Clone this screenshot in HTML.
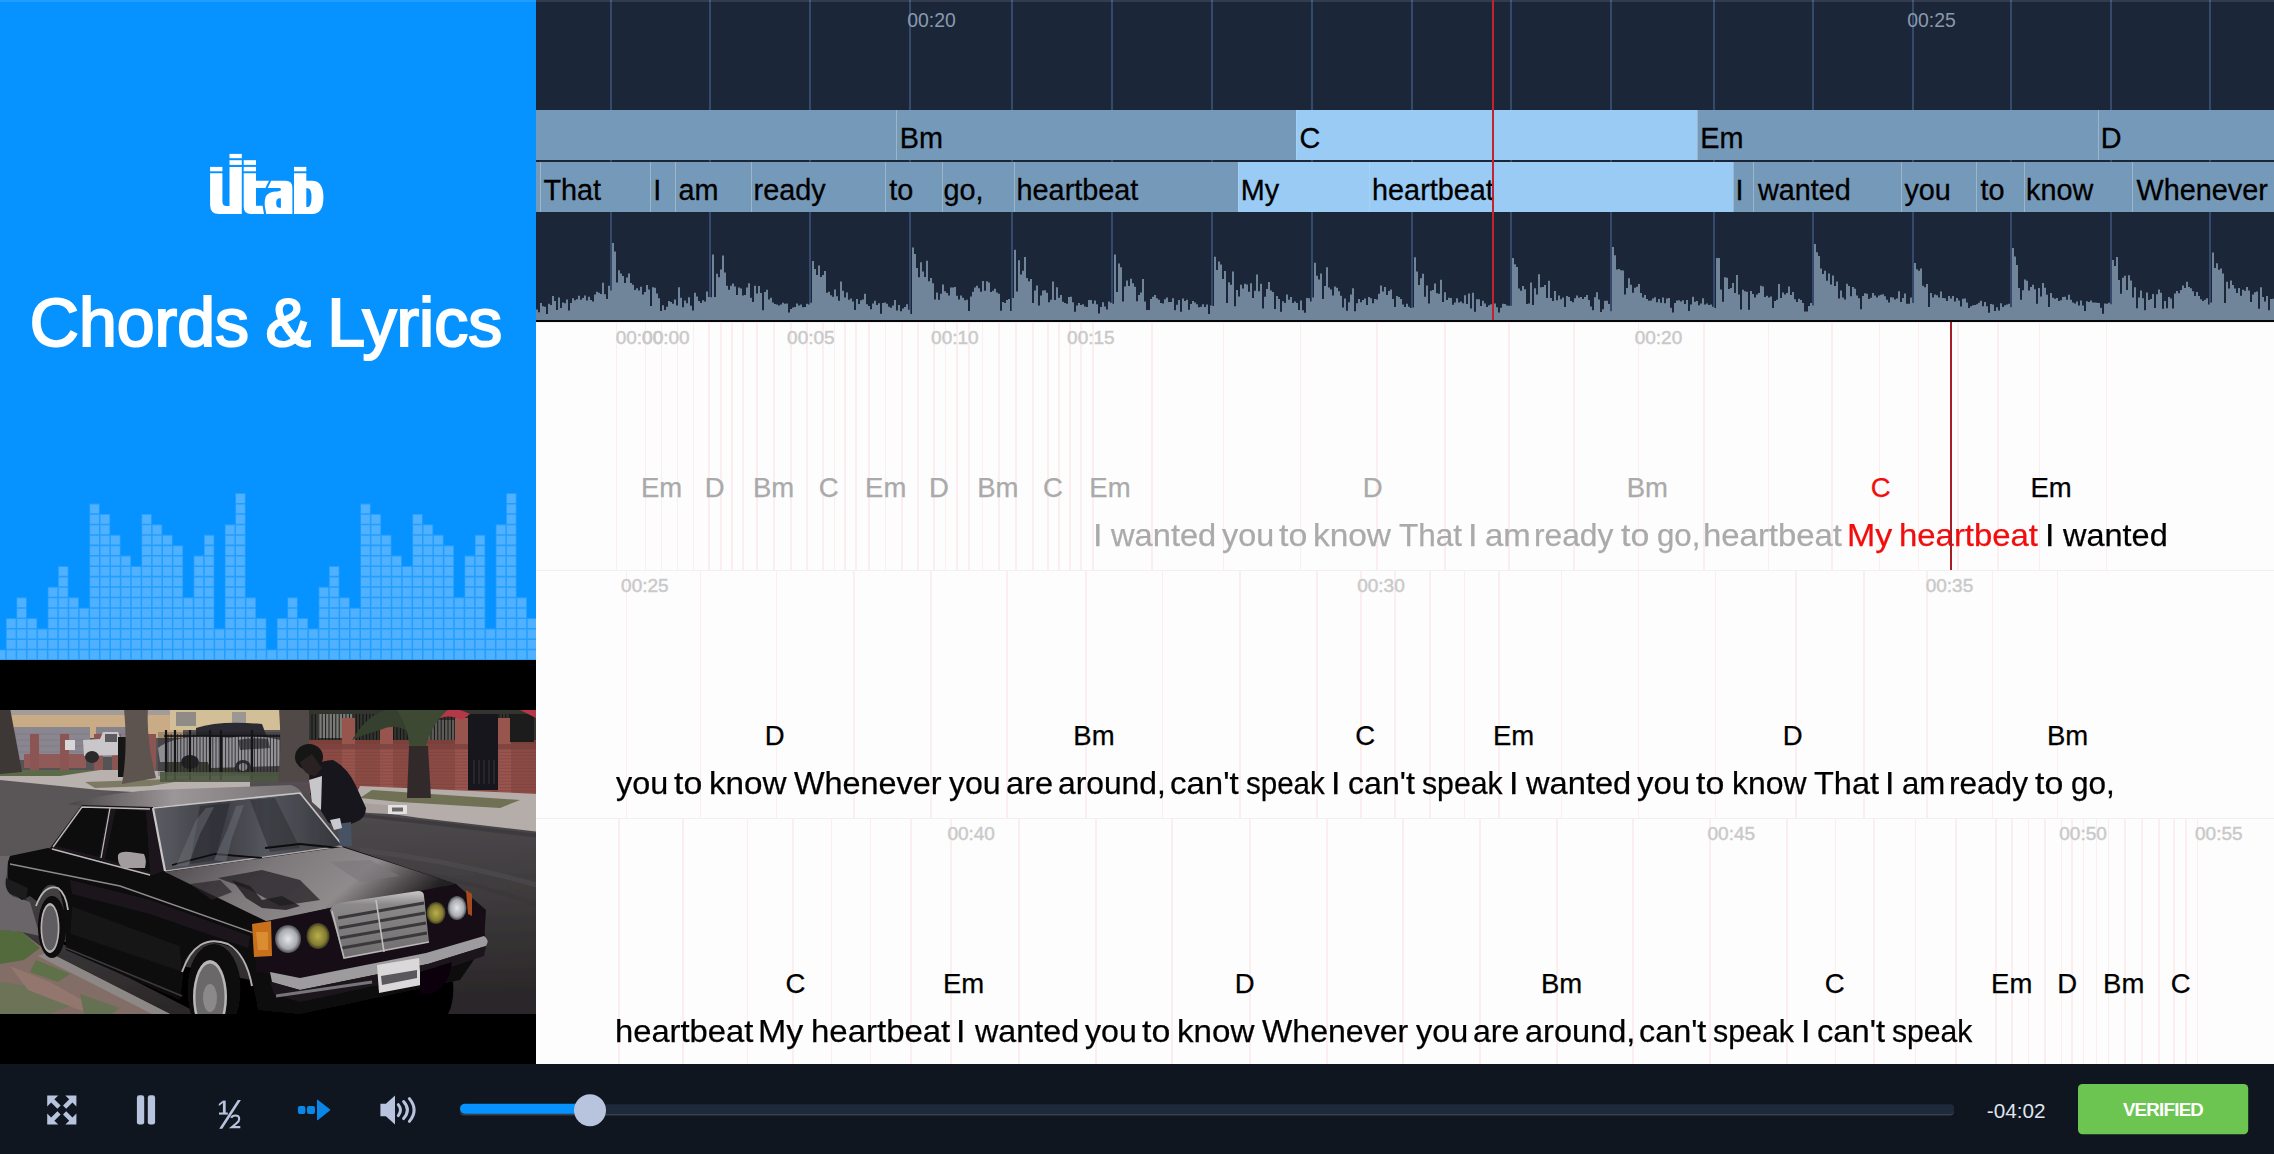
<!DOCTYPE html>
<html><head><meta charset="utf-8"><title>Chords &amp; Lyrics</title><style>

*{box-sizing:border-box;margin:0;padding:0}
html,body{width:2274px;height:1154px;overflow:hidden;background:#fff}
body{position:relative;font-family:"Liberation Sans",sans-serif;color:#000}
.abs{position:absolute}
#left{left:0;top:0;width:536px;height:660px;background:#0793ff;overflow:hidden}
#left .topline,#top .topline{position:absolute;left:0;top:0;width:100%;height:2px;background:rgba(255,255,255,.1)}
#title{position:absolute;left:-2px;top:281.5px;width:536px;text-align:center;font-size:68px;line-height:80px;color:#fff;white-space:nowrap;word-spacing:-2.5px;-webkit-text-stroke:2.1px #fff}
#vid{left:0;top:660px;width:536px;height:404px;background:#000;overflow:hidden}
#top{left:536px;top:0;width:1738px;height:322px;background:#1b2638;overflow:hidden}
.beat{position:absolute;top:0;width:2px;height:320px;background:#34496b}
.tl{position:absolute;top:8.8px;font-size:19.4px;line-height:22px;color:#8a99ad;white-space:nowrap}
.row{position:absolute;left:0;width:1738px;height:50px;background:#7599b8}
.acbg{position:absolute;top:0;height:50px;background:#99cbf4}
.dv{position:absolute;top:0;height:50px;width:1px;background:rgba(255,255,255,.28)}
.cell{position:absolute;top:0;height:50px;-webkit-text-stroke:.3px;font-size:28.8px;line-height:32px;padding-left:0;white-space:nowrap;overflow:visible;color:#000}
#chordrow .cell{padding-top:11.6px}
#lyricrow .cell{padding-top:11.6px}
#sheet{left:536px;top:322px;width:1738px;height:742px;background:#fdfdfe;overflow:hidden}
.srow{position:absolute;left:0;width:1738px;height:248px;border-top:1.5px solid #f1efef}
.pl{position:absolute;top:0;width:1.6px;height:248px;background:#fceeee}
.st{position:absolute;top:4.2px;font-size:19px;line-height:22px;color:#c9c9c9;white-space:nowrap;-webkit-text-stroke:.5px #cbcbcb}
.ch{position:absolute;top:149.3px;font-size:27.5px;line-height:32px;white-space:nowrap;-webkit-text-stroke:.25px}
.ly{position:absolute;transform-origin:0 0;top:192.8px;font-size:32px;line-height:38px;white-space:nowrap;-webkit-text-stroke:.25px}
.past{color:#aaa}
.cur{color:#f20d0d}
#bar{left:0;top:1064px;width:2274px;height:90px;background:#0f161f}

</style></head><body>
<div id="left" class="abs"><div class="topline"></div>
<svg class="abs" style="left:200px;top:145px" width="140" height="80" viewBox="200 145 140 80"><g fill="#fff"><rect x="210.1" y="166.9" width="12.3" height="4.4"/><path d="M210.1 173.3H222.4V201.5Q222.4 206 226.5 206H229.5V166.9H241.8V214H219Q210.1 214 210.1 205Z"/><rect x="229.5" y="153.9" width="12.3" height="4.3"/><rect x="229.5" y="160.2" width="12.3" height="4.7"/><rect x="243.7" y="160.2" width="12.3" height="4.7"/><rect x="243.7" y="166.9" width="12.3" height="4.4"/><path d="M243.7 173.3H256V180.8H269L265.4 187.9H256V205.7H262.6L264 214H251Q243.7 214 243.7 206.5Z"/><path d="M271.2 180.8H285.5Q292.4 180.8 292.4 188V214H266.3L264.9 207Q264.2 200 266 196Q268.5 191.6 277 191.4Q281 191 281 189.5Q281 188 279.5 187.9H267.7Z M280.9 198.2H279Q276.2 198.6 276.2 203Q276.2 207.5 279 207.7H280.9Z" fill-rule="evenodd"/><rect x="294" y="166.9" width="12.3" height="4.4"/><path d="M294 173.3H306.3V180.8H312Q323.4 180.8 323.4 197.5Q323.4 214 312 214H294Z M306.3 188.3H308Q311.5 188.6 311.5 197.5Q311.5 206.6 308 206.9H306.3Z" fill-rule="evenodd"/></g></svg>
<div id="title">Chords &amp; Lyrics</div>
<svg class="abs" style="left:0;top:480px" width="536" height="180" viewBox="0 480 536 180"><path d="M-4.45 649.38h10.42v10.62h-10.42zM5.97 618.12h10.42v41.88h-10.42zM16.39 597.28h10.42v62.72h-10.42zM26.81 618.12h10.42v41.88h-10.42zM37.23 628.54h10.42v31.46h-10.42zM47.65 586.86h10.42v73.14h-10.42zM58.07 566.02h10.42v93.98h-10.42zM68.49 597.28h10.42v62.72h-10.42zM78.91 607.70h10.42v52.30h-10.42zM89.33 503.50h10.42v156.50h-10.42zM99.75 513.92h10.42v146.08h-10.42zM110.17 534.76h10.42v125.24h-10.42zM120.59 555.60h10.42v104.40h-10.42zM131.01 566.02h10.42v93.98h-10.42zM141.43 513.92h10.42v146.08h-10.42zM151.85 524.34h10.42v135.66h-10.42zM162.27 534.76h10.42v125.24h-10.42zM172.69 545.18h10.42v114.82h-10.42zM183.11 597.28h10.42v62.72h-10.42zM193.53 555.60h10.42v104.40h-10.42zM203.95 534.76h10.42v125.24h-10.42zM214.37 628.54h10.42v31.46h-10.42zM224.79 524.34h10.42v135.66h-10.42zM235.21 493.08h10.42v166.92h-10.42zM245.63 597.28h10.42v62.72h-10.42zM256.05 618.12h10.42v41.88h-10.42zM266.47 649.38h10.42v10.62h-10.42zM276.89 618.12h10.42v41.88h-10.42zM287.31 597.28h10.42v62.72h-10.42zM297.73 618.12h10.42v41.88h-10.42zM308.15 628.54h10.42v31.46h-10.42zM318.57 586.86h10.42v73.14h-10.42zM328.99 566.02h10.42v93.98h-10.42zM339.41 597.28h10.42v62.72h-10.42zM349.83 607.70h10.42v52.30h-10.42zM360.25 503.50h10.42v156.50h-10.42zM370.67 513.92h10.42v146.08h-10.42zM381.09 534.76h10.42v125.24h-10.42zM391.51 555.60h10.42v104.40h-10.42zM401.93 566.02h10.42v93.98h-10.42zM412.35 513.92h10.42v146.08h-10.42zM422.77 524.34h10.42v135.66h-10.42zM433.19 534.76h10.42v125.24h-10.42zM443.61 545.18h10.42v114.82h-10.42zM454.03 597.28h10.42v62.72h-10.42zM464.45 555.60h10.42v104.40h-10.42zM474.87 534.76h10.42v125.24h-10.42zM485.29 628.54h10.42v31.46h-10.42zM495.71 524.34h10.42v135.66h-10.42zM506.13 493.08h10.42v166.92h-10.42zM516.55 597.28h10.42v62.72h-10.42zM526.97 618.12h10.42v41.88h-10.42z" fill="#239eff"/><path d="M-3.70 650.33h8.90v8.90h-8.90zM6.72 650.33h8.90v8.90h-8.90zM6.72 639.91h8.90v8.90h-8.90zM6.72 629.49h8.90v8.90h-8.90zM6.72 619.07h8.90v8.90h-8.90zM17.14 650.33h8.90v8.90h-8.90zM17.14 639.91h8.90v8.90h-8.90zM17.14 629.49h8.90v8.90h-8.90zM17.14 619.07h8.90v8.90h-8.90zM17.14 608.65h8.90v8.90h-8.90zM17.14 598.23h8.90v8.90h-8.90zM27.56 650.33h8.90v8.90h-8.90zM27.56 639.91h8.90v8.90h-8.90zM27.56 629.49h8.90v8.90h-8.90zM27.56 619.07h8.90v8.90h-8.90zM37.98 650.33h8.90v8.90h-8.90zM37.98 639.91h8.90v8.90h-8.90zM37.98 629.49h8.90v8.90h-8.90zM48.40 650.33h8.90v8.90h-8.90zM48.40 639.91h8.90v8.90h-8.90zM48.40 629.49h8.90v8.90h-8.90zM48.40 619.07h8.90v8.90h-8.90zM48.40 608.65h8.90v8.90h-8.90zM48.40 598.23h8.90v8.90h-8.90zM48.40 587.81h8.90v8.90h-8.90zM58.82 650.33h8.90v8.90h-8.90zM58.82 639.91h8.90v8.90h-8.90zM58.82 629.49h8.90v8.90h-8.90zM58.82 619.07h8.90v8.90h-8.90zM58.82 608.65h8.90v8.90h-8.90zM58.82 598.23h8.90v8.90h-8.90zM58.82 587.81h8.90v8.90h-8.90zM58.82 577.39h8.90v8.90h-8.90zM58.82 566.97h8.90v8.90h-8.90zM69.24 650.33h8.90v8.90h-8.90zM69.24 639.91h8.90v8.90h-8.90zM69.24 629.49h8.90v8.90h-8.90zM69.24 619.07h8.90v8.90h-8.90zM69.24 608.65h8.90v8.90h-8.90zM69.24 598.23h8.90v8.90h-8.90zM79.66 650.33h8.90v8.90h-8.90zM79.66 639.91h8.90v8.90h-8.90zM79.66 629.49h8.90v8.90h-8.90zM79.66 619.07h8.90v8.90h-8.90zM79.66 608.65h8.90v8.90h-8.90zM90.08 650.33h8.90v8.90h-8.90zM90.08 639.91h8.90v8.90h-8.90zM90.08 629.49h8.90v8.90h-8.90zM90.08 619.07h8.90v8.90h-8.90zM90.08 608.65h8.90v8.90h-8.90zM90.08 598.23h8.90v8.90h-8.90zM90.08 587.81h8.90v8.90h-8.90zM90.08 577.39h8.90v8.90h-8.90zM90.08 566.97h8.90v8.90h-8.90zM90.08 556.55h8.90v8.90h-8.90zM90.08 546.13h8.90v8.90h-8.90zM90.08 535.71h8.90v8.90h-8.90zM90.08 525.29h8.90v8.90h-8.90zM90.08 514.87h8.90v8.90h-8.90zM90.08 504.45h8.90v8.90h-8.90zM100.50 650.33h8.90v8.90h-8.90zM100.50 639.91h8.90v8.90h-8.90zM100.50 629.49h8.90v8.90h-8.90zM100.50 619.07h8.90v8.90h-8.90zM100.50 608.65h8.90v8.90h-8.90zM100.50 598.23h8.90v8.90h-8.90zM100.50 587.81h8.90v8.90h-8.90zM100.50 577.39h8.90v8.90h-8.90zM100.50 566.97h8.90v8.90h-8.90zM100.50 556.55h8.90v8.90h-8.90zM100.50 546.13h8.90v8.90h-8.90zM100.50 535.71h8.90v8.90h-8.90zM100.50 525.29h8.90v8.90h-8.90zM100.50 514.87h8.90v8.90h-8.90zM110.92 650.33h8.90v8.90h-8.90zM110.92 639.91h8.90v8.90h-8.90zM110.92 629.49h8.90v8.90h-8.90zM110.92 619.07h8.90v8.90h-8.90zM110.92 608.65h8.90v8.90h-8.90zM110.92 598.23h8.90v8.90h-8.90zM110.92 587.81h8.90v8.90h-8.90zM110.92 577.39h8.90v8.90h-8.90zM110.92 566.97h8.90v8.90h-8.90zM110.92 556.55h8.90v8.90h-8.90zM110.92 546.13h8.90v8.90h-8.90zM110.92 535.71h8.90v8.90h-8.90zM121.34 650.33h8.90v8.90h-8.90zM121.34 639.91h8.90v8.90h-8.90zM121.34 629.49h8.90v8.90h-8.90zM121.34 619.07h8.90v8.90h-8.90zM121.34 608.65h8.90v8.90h-8.90zM121.34 598.23h8.90v8.90h-8.90zM121.34 587.81h8.90v8.90h-8.90zM121.34 577.39h8.90v8.90h-8.90zM121.34 566.97h8.90v8.90h-8.90zM121.34 556.55h8.90v8.90h-8.90zM131.76 650.33h8.90v8.90h-8.90zM131.76 639.91h8.90v8.90h-8.90zM131.76 629.49h8.90v8.90h-8.90zM131.76 619.07h8.90v8.90h-8.90zM131.76 608.65h8.90v8.90h-8.90zM131.76 598.23h8.90v8.90h-8.90zM131.76 587.81h8.90v8.90h-8.90zM131.76 577.39h8.90v8.90h-8.90zM131.76 566.97h8.90v8.90h-8.90zM142.18 650.33h8.90v8.90h-8.90zM142.18 639.91h8.90v8.90h-8.90zM142.18 629.49h8.90v8.90h-8.90zM142.18 619.07h8.90v8.90h-8.90zM142.18 608.65h8.90v8.90h-8.90zM142.18 598.23h8.90v8.90h-8.90zM142.18 587.81h8.90v8.90h-8.90zM142.18 577.39h8.90v8.90h-8.90zM142.18 566.97h8.90v8.90h-8.90zM142.18 556.55h8.90v8.90h-8.90zM142.18 546.13h8.90v8.90h-8.90zM142.18 535.71h8.90v8.90h-8.90zM142.18 525.29h8.90v8.90h-8.90zM142.18 514.87h8.90v8.90h-8.90zM152.60 650.33h8.90v8.90h-8.90zM152.60 639.91h8.90v8.90h-8.90zM152.60 629.49h8.90v8.90h-8.90zM152.60 619.07h8.90v8.90h-8.90zM152.60 608.65h8.90v8.90h-8.90zM152.60 598.23h8.90v8.90h-8.90zM152.60 587.81h8.90v8.90h-8.90zM152.60 577.39h8.90v8.90h-8.90zM152.60 566.97h8.90v8.90h-8.90zM152.60 556.55h8.90v8.90h-8.90zM152.60 546.13h8.90v8.90h-8.90zM152.60 535.71h8.90v8.90h-8.90zM152.60 525.29h8.90v8.90h-8.90zM163.02 650.33h8.90v8.90h-8.90zM163.02 639.91h8.90v8.90h-8.90zM163.02 629.49h8.90v8.90h-8.90zM163.02 619.07h8.90v8.90h-8.90zM163.02 608.65h8.90v8.90h-8.90zM163.02 598.23h8.90v8.90h-8.90zM163.02 587.81h8.90v8.90h-8.90zM163.02 577.39h8.90v8.90h-8.90zM163.02 566.97h8.90v8.90h-8.90zM163.02 556.55h8.90v8.90h-8.90zM163.02 546.13h8.90v8.90h-8.90zM163.02 535.71h8.90v8.90h-8.90zM173.44 650.33h8.90v8.90h-8.90zM173.44 639.91h8.90v8.90h-8.90zM173.44 629.49h8.90v8.90h-8.90zM173.44 619.07h8.90v8.90h-8.90zM173.44 608.65h8.90v8.90h-8.90zM173.44 598.23h8.90v8.90h-8.90zM173.44 587.81h8.90v8.90h-8.90zM173.44 577.39h8.90v8.90h-8.90zM173.44 566.97h8.90v8.90h-8.90zM173.44 556.55h8.90v8.90h-8.90zM173.44 546.13h8.90v8.90h-8.90zM183.86 650.33h8.90v8.90h-8.90zM183.86 639.91h8.90v8.90h-8.90zM183.86 629.49h8.90v8.90h-8.90zM183.86 619.07h8.90v8.90h-8.90zM183.86 608.65h8.90v8.90h-8.90zM183.86 598.23h8.90v8.90h-8.90zM194.28 650.33h8.90v8.90h-8.90zM194.28 639.91h8.90v8.90h-8.90zM194.28 629.49h8.90v8.90h-8.90zM194.28 619.07h8.90v8.90h-8.90zM194.28 608.65h8.90v8.90h-8.90zM194.28 598.23h8.90v8.90h-8.90zM194.28 587.81h8.90v8.90h-8.90zM194.28 577.39h8.90v8.90h-8.90zM194.28 566.97h8.90v8.90h-8.90zM194.28 556.55h8.90v8.90h-8.90zM204.70 650.33h8.90v8.90h-8.90zM204.70 639.91h8.90v8.90h-8.90zM204.70 629.49h8.90v8.90h-8.90zM204.70 619.07h8.90v8.90h-8.90zM204.70 608.65h8.90v8.90h-8.90zM204.70 598.23h8.90v8.90h-8.90zM204.70 587.81h8.90v8.90h-8.90zM204.70 577.39h8.90v8.90h-8.90zM204.70 566.97h8.90v8.90h-8.90zM204.70 556.55h8.90v8.90h-8.90zM204.70 546.13h8.90v8.90h-8.90zM204.70 535.71h8.90v8.90h-8.90zM215.12 650.33h8.90v8.90h-8.90zM215.12 639.91h8.90v8.90h-8.90zM215.12 629.49h8.90v8.90h-8.90zM225.54 650.33h8.90v8.90h-8.90zM225.54 639.91h8.90v8.90h-8.90zM225.54 629.49h8.90v8.90h-8.90zM225.54 619.07h8.90v8.90h-8.90zM225.54 608.65h8.90v8.90h-8.90zM225.54 598.23h8.90v8.90h-8.90zM225.54 587.81h8.90v8.90h-8.90zM225.54 577.39h8.90v8.90h-8.90zM225.54 566.97h8.90v8.90h-8.90zM225.54 556.55h8.90v8.90h-8.90zM225.54 546.13h8.90v8.90h-8.90zM225.54 535.71h8.90v8.90h-8.90zM225.54 525.29h8.90v8.90h-8.90zM235.96 650.33h8.90v8.90h-8.90zM235.96 639.91h8.90v8.90h-8.90zM235.96 629.49h8.90v8.90h-8.90zM235.96 619.07h8.90v8.90h-8.90zM235.96 608.65h8.90v8.90h-8.90zM235.96 598.23h8.90v8.90h-8.90zM235.96 587.81h8.90v8.90h-8.90zM235.96 577.39h8.90v8.90h-8.90zM235.96 566.97h8.90v8.90h-8.90zM235.96 556.55h8.90v8.90h-8.90zM235.96 546.13h8.90v8.90h-8.90zM235.96 535.71h8.90v8.90h-8.90zM235.96 525.29h8.90v8.90h-8.90zM235.96 514.87h8.90v8.90h-8.90zM235.96 504.45h8.90v8.90h-8.90zM235.96 494.03h8.90v8.90h-8.90zM246.38 650.33h8.90v8.90h-8.90zM246.38 639.91h8.90v8.90h-8.90zM246.38 629.49h8.90v8.90h-8.90zM246.38 619.07h8.90v8.90h-8.90zM246.38 608.65h8.90v8.90h-8.90zM246.38 598.23h8.90v8.90h-8.90zM256.80 650.33h8.90v8.90h-8.90zM256.80 639.91h8.90v8.90h-8.90zM256.80 629.49h8.90v8.90h-8.90zM256.80 619.07h8.90v8.90h-8.90zM267.22 650.33h8.90v8.90h-8.90zM277.64 650.33h8.90v8.90h-8.90zM277.64 639.91h8.90v8.90h-8.90zM277.64 629.49h8.90v8.90h-8.90zM277.64 619.07h8.90v8.90h-8.90zM288.06 650.33h8.90v8.90h-8.90zM288.06 639.91h8.90v8.90h-8.90zM288.06 629.49h8.90v8.90h-8.90zM288.06 619.07h8.90v8.90h-8.90zM288.06 608.65h8.90v8.90h-8.90zM288.06 598.23h8.90v8.90h-8.90zM298.48 650.33h8.90v8.90h-8.90zM298.48 639.91h8.90v8.90h-8.90zM298.48 629.49h8.90v8.90h-8.90zM298.48 619.07h8.90v8.90h-8.90zM308.90 650.33h8.90v8.90h-8.90zM308.90 639.91h8.90v8.90h-8.90zM308.90 629.49h8.90v8.90h-8.90zM319.32 650.33h8.90v8.90h-8.90zM319.32 639.91h8.90v8.90h-8.90zM319.32 629.49h8.90v8.90h-8.90zM319.32 619.07h8.90v8.90h-8.90zM319.32 608.65h8.90v8.90h-8.90zM319.32 598.23h8.90v8.90h-8.90zM319.32 587.81h8.90v8.90h-8.90zM329.74 650.33h8.90v8.90h-8.90zM329.74 639.91h8.90v8.90h-8.90zM329.74 629.49h8.90v8.90h-8.90zM329.74 619.07h8.90v8.90h-8.90zM329.74 608.65h8.90v8.90h-8.90zM329.74 598.23h8.90v8.90h-8.90zM329.74 587.81h8.90v8.90h-8.90zM329.74 577.39h8.90v8.90h-8.90zM329.74 566.97h8.90v8.90h-8.90zM340.16 650.33h8.90v8.90h-8.90zM340.16 639.91h8.90v8.90h-8.90zM340.16 629.49h8.90v8.90h-8.90zM340.16 619.07h8.90v8.90h-8.90zM340.16 608.65h8.90v8.90h-8.90zM340.16 598.23h8.90v8.90h-8.90zM350.58 650.33h8.90v8.90h-8.90zM350.58 639.91h8.90v8.90h-8.90zM350.58 629.49h8.90v8.90h-8.90zM350.58 619.07h8.90v8.90h-8.90zM350.58 608.65h8.90v8.90h-8.90zM361.00 650.33h8.90v8.90h-8.90zM361.00 639.91h8.90v8.90h-8.90zM361.00 629.49h8.90v8.90h-8.90zM361.00 619.07h8.90v8.90h-8.90zM361.00 608.65h8.90v8.90h-8.90zM361.00 598.23h8.90v8.90h-8.90zM361.00 587.81h8.90v8.90h-8.90zM361.00 577.39h8.90v8.90h-8.90zM361.00 566.97h8.90v8.90h-8.90zM361.00 556.55h8.90v8.90h-8.90zM361.00 546.13h8.90v8.90h-8.90zM361.00 535.71h8.90v8.90h-8.90zM361.00 525.29h8.90v8.90h-8.90zM361.00 514.87h8.90v8.90h-8.90zM361.00 504.45h8.90v8.90h-8.90zM371.42 650.33h8.90v8.90h-8.90zM371.42 639.91h8.90v8.90h-8.90zM371.42 629.49h8.90v8.90h-8.90zM371.42 619.07h8.90v8.90h-8.90zM371.42 608.65h8.90v8.90h-8.90zM371.42 598.23h8.90v8.90h-8.90zM371.42 587.81h8.90v8.90h-8.90zM371.42 577.39h8.90v8.90h-8.90zM371.42 566.97h8.90v8.90h-8.90zM371.42 556.55h8.90v8.90h-8.90zM371.42 546.13h8.90v8.90h-8.90zM371.42 535.71h8.90v8.90h-8.90zM371.42 525.29h8.90v8.90h-8.90zM371.42 514.87h8.90v8.90h-8.90zM381.84 650.33h8.90v8.90h-8.90zM381.84 639.91h8.90v8.90h-8.90zM381.84 629.49h8.90v8.90h-8.90zM381.84 619.07h8.90v8.90h-8.90zM381.84 608.65h8.90v8.90h-8.90zM381.84 598.23h8.90v8.90h-8.90zM381.84 587.81h8.90v8.90h-8.90zM381.84 577.39h8.90v8.90h-8.90zM381.84 566.97h8.90v8.90h-8.90zM381.84 556.55h8.90v8.90h-8.90zM381.84 546.13h8.90v8.90h-8.90zM381.84 535.71h8.90v8.90h-8.90zM392.26 650.33h8.90v8.90h-8.90zM392.26 639.91h8.90v8.90h-8.90zM392.26 629.49h8.90v8.90h-8.90zM392.26 619.07h8.90v8.90h-8.90zM392.26 608.65h8.90v8.90h-8.90zM392.26 598.23h8.90v8.90h-8.90zM392.26 587.81h8.90v8.90h-8.90zM392.26 577.39h8.90v8.90h-8.90zM392.26 566.97h8.90v8.90h-8.90zM392.26 556.55h8.90v8.90h-8.90zM402.68 650.33h8.90v8.90h-8.90zM402.68 639.91h8.90v8.90h-8.90zM402.68 629.49h8.90v8.90h-8.90zM402.68 619.07h8.90v8.90h-8.90zM402.68 608.65h8.90v8.90h-8.90zM402.68 598.23h8.90v8.90h-8.90zM402.68 587.81h8.90v8.90h-8.90zM402.68 577.39h8.90v8.90h-8.90zM402.68 566.97h8.90v8.90h-8.90zM413.10 650.33h8.90v8.90h-8.90zM413.10 639.91h8.90v8.90h-8.90zM413.10 629.49h8.90v8.90h-8.90zM413.10 619.07h8.90v8.90h-8.90zM413.10 608.65h8.90v8.90h-8.90zM413.10 598.23h8.90v8.90h-8.90zM413.10 587.81h8.90v8.90h-8.90zM413.10 577.39h8.90v8.90h-8.90zM413.10 566.97h8.90v8.90h-8.90zM413.10 556.55h8.90v8.90h-8.90zM413.10 546.13h8.90v8.90h-8.90zM413.10 535.71h8.90v8.90h-8.90zM413.10 525.29h8.90v8.90h-8.90zM413.10 514.87h8.90v8.90h-8.90zM423.52 650.33h8.90v8.90h-8.90zM423.52 639.91h8.90v8.90h-8.90zM423.52 629.49h8.90v8.90h-8.90zM423.52 619.07h8.90v8.90h-8.90zM423.52 608.65h8.90v8.90h-8.90zM423.52 598.23h8.90v8.90h-8.90zM423.52 587.81h8.90v8.90h-8.90zM423.52 577.39h8.90v8.90h-8.90zM423.52 566.97h8.90v8.90h-8.90zM423.52 556.55h8.90v8.90h-8.90zM423.52 546.13h8.90v8.90h-8.90zM423.52 535.71h8.90v8.90h-8.90zM423.52 525.29h8.90v8.90h-8.90zM433.94 650.33h8.90v8.90h-8.90zM433.94 639.91h8.90v8.90h-8.90zM433.94 629.49h8.90v8.90h-8.90zM433.94 619.07h8.90v8.90h-8.90zM433.94 608.65h8.90v8.90h-8.90zM433.94 598.23h8.90v8.90h-8.90zM433.94 587.81h8.90v8.90h-8.90zM433.94 577.39h8.90v8.90h-8.90zM433.94 566.97h8.90v8.90h-8.90zM433.94 556.55h8.90v8.90h-8.90zM433.94 546.13h8.90v8.90h-8.90zM433.94 535.71h8.90v8.90h-8.90zM444.36 650.33h8.90v8.90h-8.90zM444.36 639.91h8.90v8.90h-8.90zM444.36 629.49h8.90v8.90h-8.90zM444.36 619.07h8.90v8.90h-8.90zM444.36 608.65h8.90v8.90h-8.90zM444.36 598.23h8.90v8.90h-8.90zM444.36 587.81h8.90v8.90h-8.90zM444.36 577.39h8.90v8.90h-8.90zM444.36 566.97h8.90v8.90h-8.90zM444.36 556.55h8.90v8.90h-8.90zM444.36 546.13h8.90v8.90h-8.90zM454.78 650.33h8.90v8.90h-8.90zM454.78 639.91h8.90v8.90h-8.90zM454.78 629.49h8.90v8.90h-8.90zM454.78 619.07h8.90v8.90h-8.90zM454.78 608.65h8.90v8.90h-8.90zM454.78 598.23h8.90v8.90h-8.90zM465.20 650.33h8.90v8.90h-8.90zM465.20 639.91h8.90v8.90h-8.90zM465.20 629.49h8.90v8.90h-8.90zM465.20 619.07h8.90v8.90h-8.90zM465.20 608.65h8.90v8.90h-8.90zM465.20 598.23h8.90v8.90h-8.90zM465.20 587.81h8.90v8.90h-8.90zM465.20 577.39h8.90v8.90h-8.90zM465.20 566.97h8.90v8.90h-8.90zM465.20 556.55h8.90v8.90h-8.90zM475.62 650.33h8.90v8.90h-8.90zM475.62 639.91h8.90v8.90h-8.90zM475.62 629.49h8.90v8.90h-8.90zM475.62 619.07h8.90v8.90h-8.90zM475.62 608.65h8.90v8.90h-8.90zM475.62 598.23h8.90v8.90h-8.90zM475.62 587.81h8.90v8.90h-8.90zM475.62 577.39h8.90v8.90h-8.90zM475.62 566.97h8.90v8.90h-8.90zM475.62 556.55h8.90v8.90h-8.90zM475.62 546.13h8.90v8.90h-8.90zM475.62 535.71h8.90v8.90h-8.90zM486.04 650.33h8.90v8.90h-8.90zM486.04 639.91h8.90v8.90h-8.90zM486.04 629.49h8.90v8.90h-8.90zM496.46 650.33h8.90v8.90h-8.90zM496.46 639.91h8.90v8.90h-8.90zM496.46 629.49h8.90v8.90h-8.90zM496.46 619.07h8.90v8.90h-8.90zM496.46 608.65h8.90v8.90h-8.90zM496.46 598.23h8.90v8.90h-8.90zM496.46 587.81h8.90v8.90h-8.90zM496.46 577.39h8.90v8.90h-8.90zM496.46 566.97h8.90v8.90h-8.90zM496.46 556.55h8.90v8.90h-8.90zM496.46 546.13h8.90v8.90h-8.90zM496.46 535.71h8.90v8.90h-8.90zM496.46 525.29h8.90v8.90h-8.90zM506.88 650.33h8.90v8.90h-8.90zM506.88 639.91h8.90v8.90h-8.90zM506.88 629.49h8.90v8.90h-8.90zM506.88 619.07h8.90v8.90h-8.90zM506.88 608.65h8.90v8.90h-8.90zM506.88 598.23h8.90v8.90h-8.90zM506.88 587.81h8.90v8.90h-8.90zM506.88 577.39h8.90v8.90h-8.90zM506.88 566.97h8.90v8.90h-8.90zM506.88 556.55h8.90v8.90h-8.90zM506.88 546.13h8.90v8.90h-8.90zM506.88 535.71h8.90v8.90h-8.90zM506.88 525.29h8.90v8.90h-8.90zM506.88 514.87h8.90v8.90h-8.90zM506.88 504.45h8.90v8.90h-8.90zM506.88 494.03h8.90v8.90h-8.90zM517.30 650.33h8.90v8.90h-8.90zM517.30 639.91h8.90v8.90h-8.90zM517.30 629.49h8.90v8.90h-8.90zM517.30 619.07h8.90v8.90h-8.90zM517.30 608.65h8.90v8.90h-8.90zM517.30 598.23h8.90v8.90h-8.90zM527.72 650.33h8.90v8.90h-8.90zM527.72 639.91h8.90v8.90h-8.90zM527.72 629.49h8.90v8.90h-8.90zM527.72 619.07h8.90v8.90h-8.90z" fill="#4fb1ff"/></svg>
</div>
<div id="vid" class="abs"><svg class="abs" style="left:0;top:50px" width="536" height="304" viewBox="0 0 536 304" preserveAspectRatio="none"><defs><filter id="b1" x="-5%" y="-5%" width="110%" height="110%"><feGaussianBlur stdDeviation="0.65"/></filter><filter id="b2" x="-10%" y="-10%" width="120%" height="120%"><feGaussianBlur stdDeviation="2.2"/></filter><filter id="b3" x="-20%" y="-20%" width="140%" height="140%"><feGaussianBlur stdDeviation="5"/></filter><linearGradient id="road" x1="0" y1="0" x2="0.08" y2="1"><stop offset="0" stop-color="#5e5a5d"/><stop offset=".3" stop-color="#524e51"/><stop offset=".6" stop-color="#423f41"/><stop offset="1" stop-color="#2a2729"/></linearGradient><linearGradient id="hood" x1="0" y1="0" x2="1" y2=".3"><stop offset="0" stop-color="#454144"/><stop offset=".4" stop-color="#7d787a"/><stop offset=".72" stop-color="#8f8a8c"/><stop offset=".9" stop-color="#4a4648"/><stop offset="1" stop-color="#242124"/></linearGradient><linearGradient id="ws" x1="0" y1="0" x2="1" y2="0"><stop offset="0" stop-color="#5b5c63"/><stop offset=".35" stop-color="#3d3e45"/><stop offset=".6" stop-color="#55565e"/><stop offset="1" stop-color="#34353b"/></linearGradient><linearGradient id="roof" x1="0" y1="0" x2="1" y2="0"><stop offset="0" stop-color="#4a4547"/><stop offset=".45" stop-color="#9c9698"/><stop offset="1" stop-color="#757072"/></linearGradient><linearGradient id="grille" x1="0" y1="0" x2="0" y2="1"><stop offset="0" stop-color="#c9c7c8"/><stop offset=".2" stop-color="#8b898a"/><stop offset="1" stop-color="#6e6c6d"/></linearGradient><radialGradient id="hl"><stop offset="0" stop-color="#e4e6ea"/><stop offset=".7" stop-color="#a9abb1"/><stop offset="1" stop-color="#4b4c50"/></radialGradient><radialGradient id="yl"><stop offset="0" stop-color="#b9b04a"/><stop offset=".7" stop-color="#857d33"/><stop offset="1" stop-color="#3c3a22"/></radialGradient><clipPath id="vc"><rect x="0" y="0" width="536" height="304"/></clipPath></defs><g clip-path="url(#vc)"><g filter="url(#b1)"><rect x="-5" y="-5" width="546" height="314" fill="url(#road)"/><rect x="8" y="-2" width="175" height="30" fill="#c9ab85"/><rect x="8" y="-2" width="175" height="7" fill="#a39c98"/><rect x="14" y="17" width="76" height="33" fill="#8a8690"/><rect x="96" y="17" width="30" height="30" fill="#86828c"/><g stroke="#75717b" stroke-width=".7" opacity=".7"><path d="M14 24H90M14 30H90M14 36H90M14 42H90M96 24H126M96 30H126M96 36H126"/></g><rect x="170" y="-2" width="115" height="22" fill="#d2bf97"/><rect x="176" y="2" width="20" height="14" fill="#8f8b86"/><rect x="232" y="2" width="14" height="14" fill="#9b9894"/><rect x="24" y="44" width="62" height="14" fill="#8f5a58"/><rect x="30" y="24" width="9" height="36" fill="#8a5553"/><rect x="60" y="24" width="9" height="36" fill="#8a5553"/><rect x="94" y="24" width="9" height="36" fill="#8a5553"/><rect x="112" y="24" width="9" height="36" fill="#8a5553"/><rect x="146" y="24" width="10" height="36" fill="#8a5553"/><path d="M0 60L130 60L250 64L250 80L180 84L100 82L0 72Z" fill="#b9b1ae"/><path d="M0 60H100L60 66H0Z" fill="#5d6a48"/><path d="M85 72L200 68L150 76L95 78Z" fill="#7b7a62"/><rect x="165" y="38" width="70" height="24" fill="#4a4f3f"/><path d="M83 30L100 29L103 22L118 22L121 30L121 45L84 46Z" fill="#c9c7c9"/><rect x="105" y="24" width="12" height="8" fill="#5d5a60"/><ellipse cx="92" cy="47" rx="7" ry="6" fill="#2c2a2c"/><rect x="65" y="30" width="10" height="10" fill="#d8d6d6"/><path d="M196 18Q220 10 262 14L268 30H196Z" fill="#2b2b33"/><path d="M158 38Q170 28 200 26L240 28L240 52L160 52Z" fill="#b3b2b7"/><path d="M205 44Q212 30 240 26Q262 25 280 30V56L210 58Z" fill="#b9b8bd"/><path d="M238 30Q250 27 268 29L270 38L240 40Z" fill="#55565e"/><ellipse cx="243" cy="57" rx="8" ry="7" fill="#3a393c"/><ellipse cx="243" cy="57" rx="4.5" ry="4" fill="#a8a7ab"/><ellipse cx="190" cy="52" rx="9" ry="7" fill="#29282b"/><g stroke="#131214" stroke-width="2.2"><path d="M166 20V70"/><path d="M175 20V70"/><path d="M190 20V70"/><path d="M210 20V70"/><path d="M221 20V70"/><path d="M252 20V70"/></g><g stroke="#1b1a1d" stroke-width=".9" opacity=".85"><path d="M168.0 24V66"/><path d="M171.2 24V66"/><path d="M174.4 24V66"/><path d="M177.6 24V66"/><path d="M180.8 24V66"/><path d="M184.0 24V66"/><path d="M187.2 24V66"/><path d="M190.4 24V66"/><path d="M193.6 24V66"/><path d="M196.8 24V66"/><path d="M200.0 24V66"/><path d="M203.2 24V66"/><path d="M206.4 24V66"/><path d="M209.6 24V66"/><path d="M212.8 24V66"/><path d="M216.0 24V66"/><path d="M219.2 24V66"/><path d="M222.4 24V66"/><path d="M225.6 24V66"/><path d="M228.8 24V66"/><path d="M232.0 24V66"/><path d="M235.2 24V66"/><path d="M238.4 24V66"/><path d="M241.6 24V66"/><path d="M244.8 24V66"/><path d="M248.0 24V66"/><path d="M251.2 24V66"/><path d="M254.4 24V66"/><path d="M257.6 24V66"/><path d="M260.8 24V66"/><path d="M264.0 24V66"/><path d="M267.2 24V66"/><path d="M270.4 24V66"/><path d="M273.6 24V66"/><path d="M276.8 24V66"/><path d="M280.0 24V66"/></g><path d="M164 26H282" stroke="#131214" stroke-width="1.6"/><rect x="158" y="22" width="124" height="44" fill="#141316" opacity=".22"/><rect x="118" y="27" width="8" height="40" fill="#171517"/><path d="M160 62H282V72H160Z" fill="#4d5640" opacity=".9"/><path d="M-2 -2H10Q16 30 22 62L0 64Z" fill="#3d3836"/><path d="M124 -2H148Q146 30 156 68L122 74Q128 40 124 -2Z" fill="#5d534f"/><path d="M279 -2H309Q308 40 312 72L278 72Q282 40 279 -2Z" fill="#514946"/><rect x="309" y="-2" width="230" height="40" fill="#33342f"/><rect x="318" y="4" width="35" height="24" fill="#9a9a96" opacity=".7"/><rect x="420" y="10" width="60" height="22" fill="#6e6f6a" opacity=".7"/><g stroke="#121113" stroke-width="1" opacity=".9"><path d="M312.0 4V36"/><path d="M315.4 4V36"/><path d="M318.8 4V36"/><path d="M322.2 4V36"/><path d="M325.6 4V36"/><path d="M329.0 4V36"/><path d="M332.4 4V36"/><path d="M335.8 4V36"/><path d="M339.2 4V36"/><path d="M342.6 4V36"/><path d="M346.0 4V36"/><path d="M349.4 4V36"/><path d="M352.8 4V36"/><path d="M356.2 4V36"/><path d="M359.6 4V36"/><path d="M363.0 4V36"/><path d="M366.4 4V36"/><path d="M369.8 4V36"/><path d="M373.2 4V36"/><path d="M376.6 4V36"/><path d="M380.0 4V36"/><path d="M383.4 4V36"/><path d="M386.8 4V36"/><path d="M390.2 4V36"/><path d="M393.6 4V36"/><path d="M397.0 4V36"/><path d="M400.4 4V36"/><path d="M403.8 4V36"/><path d="M407.2 4V36"/><path d="M410.6 4V36"/><path d="M414.0 4V36"/><path d="M417.4 4V36"/><path d="M420.8 4V36"/><path d="M424.2 4V36"/><path d="M427.6 4V36"/><path d="M431.0 4V36"/><path d="M434.4 4V36"/><path d="M437.8 4V36"/><path d="M441.2 4V36"/><path d="M444.6 4V36"/><path d="M448.0 4V36"/><path d="M451.4 4V36"/><path d="M454.8 4V36"/><path d="M458.2 4V36"/><path d="M461.6 4V36"/><path d="M465.0 4V36"/><path d="M468.4 4V36"/><path d="M471.8 4V36"/><path d="M475.2 4V36"/><path d="M478.6 4V36"/><path d="M482.0 4V36"/><path d="M485.4 4V36"/><path d="M488.8 4V36"/><path d="M492.2 4V36"/><path d="M495.6 4V36"/><path d="M499.0 4V36"/><path d="M502.4 4V36"/><path d="M505.8 4V36"/><path d="M509.2 4V36"/><path d="M512.6 4V36"/><path d="M516.0 4V36"/><path d="M519.4 4V36"/><path d="M522.8 4V36"/><path d="M526.2 4V36"/><path d="M529.6 4V36"/><path d="M533.0 4V36"/></g><rect x="309" y="30" width="230" height="54" fill="#8b4b45"/><rect x="309" y="30" width="230" height="4" fill="#7c3f3b"/><rect x="342" y="8" width="13" height="76" fill="#97544d"/><rect x="380" y="8" width="13" height="76" fill="#97544d"/><rect x="455" y="8" width="13" height="76" fill="#97544d"/><rect x="498" y="8" width="13" height="76" fill="#97544d"/><g stroke="#6f3a36" stroke-width=".7" opacity=".45"><path d="M309 36.0H536"/><path d="M309 39.2H536"/><path d="M309 42.4H536"/><path d="M309 45.6H536"/><path d="M309 48.8H536"/><path d="M309 52.0H536"/><path d="M309 55.2H536"/><path d="M309 58.4H536"/><path d="M309 61.6H536"/><path d="M309 64.8H536"/><path d="M309 68.0H536"/><path d="M309 71.2H536"/><path d="M309 74.4H536"/><path d="M309 77.6H536"/><path d="M309 80.8H536"/></g><rect x="309" y="34" width="230" height="5" fill="#7a423d" opacity=".8"/><rect x="468" y="4" width="30" height="76" fill="#17161a"/><g stroke="#6d6f6a" stroke-width=".8" opacity=".5"><path d="M474 50V74M479 50V74M484 50V74M489 50V74M494 50V74"/></g><rect x="510" y="4" width="24" height="28" fill="#1d1b1e"/><path d="M440 0Q455 -4 470 4L462 10Q450 4 440 8Z" fill="#b5374a"/><path d="M520 0L536 0L536 8Z" fill="#b5374a"/><path d="M352 30Q370 0 395 -2L440 -2Q420 10 418 30Q400 10 380 20Q365 24 352 30Z" fill="#34402d"/><path d="M395 -2H450Q430 14 425 40L410 40Q408 14 395 -2Z" fill="#3c4a33"/><path d="M360 76L540 84L540 122L420 108L350 98Z" fill="#b5adaa"/><path d="M372 80L520 90L500 98L400 92L360 88Z" fill="#6f6f55"/><path d="M350 92L407 97L407 105L352 102Z" fill="#a8a09d"/><path d="M409 36H428L431 88H407Z" fill="#332c2a"/><rect x="388" y="95" width="19" height="9" fill="#e5e3e2"/><rect x="392" y="97.5" width="11" height="4" fill="#6a6868"/><path d="M352 103L440 112L540 124V128L440 116L352 106Z" fill="#3e3b3d"/><path d="M0 70L100 80L200 86L80 96L50 140L10 148L0 152Z" fill="#5a5659"/><path d="M0 146L12 146L6 168L12 186L30 192L40 226L22 222L0 220Z" fill="#6b6567"/><path d="M360 140Q450 150 540 176" fill="none" stroke="#5a5659" stroke-width="5" opacity=".35"/><path d="M380 158Q460 166 540 196" fill="none" stroke="#363335" stroke-width="4" opacity=".35"/><path d="M0 220L22 222L48 242L170 304H0Z" fill="#826e66"/><path d="M0 220L22 222L40 238L24 250L0 254Z" fill="#536a3e"/><path d="M36 250L70 264L58 272L30 262Z" fill="#5f7148"/><path d="M0 272L30 276L70 296L50 304H0Z" fill="#6d7357"/><path d="M10 256L50 272L100 300L90 304L28 280Z" fill="#93766d"/><path d="M80 284L120 298L112 304H84Z" fill="#667052"/><path d="M48 242L170 304H152L38 246Z" fill="#8d8886"/><path d="M55 230L200 304H448Q456 290 452 262L300 280Z" fill="#050405"/><path d="M8 152Q6 170 12 182L22 190L30 186L38 192Q44 170 56 176Q66 186 66 240L180 290L185 250Q200 226 228 236Q250 246 258 300L300 304L460 270L486 232L480 200L456 174L342 136L164 160L48 138L10 146Z" fill="#0d0b0e"/><path d="M68 94Q100 84 153 80L291 75Q300 78 303 85L153 97L80 96Z" fill="url(#roof)"/><path d="M50 138L82 95L153 97L166 160L150 166L100 150Z" fill="#1a181b"/><path d="M56 136L83 98L108 98L99 147Z" fill="#0b0a0c"/><path d="M105 149L116 99L146 101L150 162Z" fill="#0b0a0c"/><g fill="none" stroke="#bdb9ba" stroke-width="1.3"><path d="M53 137L82 97L150 99"/><path d="M110 98L101 148"/><path d="M52 139L150 165"/></g><path d="M154 99L299 84L341 135L165 160Z" fill="url(#ws)"/><path d="M200 96L230 93L215 150L190 154Z" fill="#2d2e34" opacity=".7"/><path d="M250 90L275 88L300 138L270 142Z" fill="#2f3036" opacity=".6"/><path d="M153 98L300 83L343 136" fill="none" stroke="#c9c6c7" stroke-width="1.6"/><path d="M165 161L342 136" fill="none" stroke="#aaa6a7" stroke-width="1.6"/><path d="M153 98L165 161" fill="none" stroke="#c9c6c7" stroke-width="2.2"/><path d="M172 155L215 144L262 148M265 138L300 134L340 138" fill="none" stroke="#0d0c0e" stroke-width="1.8"/><path d="M165 162L342 137L456 174Q440 182 422 184L330 198L268 212Z" fill="url(#hood)"/><path d="M218 168L262 160L300 170L320 190L280 196L250 180Z" fill="#252225" opacity=".75"/><path d="M330 152L370 150L400 166L360 172Z" fill="#7b7779" opacity=".6"/><path d="M70 170L150 190L250 226L248 238L150 204L72 184Z" fill="#1c191d" opacity=".9"/><path d="M72 196L180 236L182 262L70 224Z" fill="#161316" opacity=".9"/><path d="M214 150L228 118L236 96L244 95L232 128L226 152Z" fill="#6d6f78" opacity=".5"/><path d="M176 156L196 110L206 98L214 97L200 124L188 156Z" fill="#70727b" opacity=".45"/><path d="M232 170L250 176L262 190L282 186L300 196L286 200L262 198L246 188Z" fill="#1d1a1d" opacity=".8"/><path d="M190 174L220 170L232 182L212 190Z" fill="#2a272a" opacity=".7"/><path d="M10 154L120 176L262 226" fill="none" stroke="#8e8a8b" stroke-width="1.4"/><path d="M66 238L182 286" fill="none" stroke="#3d3a3c" stroke-width="1.6"/><path d="M118 145Q120 141 130 142L144 144Q147 150 145 158L122 158Q117 152 118 145Z" fill="#a29c9e"/><path d="M6 168Q4 178 10 184L26 190L28 178Z" fill="#1d1b1e"/><ellipse cx="52" cy="217" rx="14" ry="31" fill="#0a090a"/><ellipse cx="50" cy="218" rx="9.5" ry="25" fill="#b5b2b3"/><ellipse cx="50" cy="218" rx="7.8" ry="22.5" fill="#5f5d5f"/><path d="M36 196Q44 174 58 178Q66 184 68 200" fill="none" stroke="#bab6b7" stroke-width="1.8"/><ellipse cx="214" cy="280" rx="27" ry="46" fill="#080708"/><ellipse cx="210" cy="287" rx="17" ry="37" fill="#b9b6b7"/><ellipse cx="210" cy="287" rx="14.5" ry="33.5" fill="#6a6869"/><ellipse cx="210" cy="288" rx="7" ry="14" fill="#8b898a"/><path d="M182 262Q196 222 228 234Q246 244 252 276" fill="none" stroke="#b4b0b1" stroke-width="2"/><path d="M252 214L330 198L456 174L486 200L484 232L300 270L256 262Z" fill="#121013"/><path d="M252 214L271 211L272 246L254 247Z" fill="#c9701d"/><path d="M256 222H268V240H258Z" fill="#e39a3c" opacity=".7"/><path d="M466 180L472 184L472 206L468 204Z" fill="#a6481f"/><ellipse cx="288" cy="229" rx="13" ry="14" fill="url(#hl)"/><ellipse cx="318" cy="226" rx="11.5" ry="13" fill="url(#yl)"/><ellipse cx="436" cy="203" rx="9.5" ry="11" fill="url(#yl)"/><ellipse cx="457" cy="198" rx="9.5" ry="12" fill="url(#hl)"/><path d="M330 200Q332 194 345 192L418 181Q424 181 424 186L429 232L344 248Z" fill="url(#grille)"/><g stroke="#3b393b" stroke-width="3.2" fill="none"><path d="M338 208L424 193"/><path d="M339 218L425 203"/><path d="M340 228L426 213"/><path d="M342 238L427 223"/></g><path d="M376 190L384 242" stroke="#c2c0c1" stroke-width="1.6"/><path d="M332 201L344 248L429 232" fill="none" stroke="#b9b7b8" stroke-width="1.6"/><path d="M270 262L300 268L426 243L484 226Q490 230 486 236L428 254L300 280L272 272Z" fill="#9d9b9d"/><path d="M270 272L300 280L428 254L486 236L484 246L430 264L300 292L274 284Z" fill="#1b191c"/><path d="M276 286L372 272" stroke="#77757a" stroke-width="3"/><path d="M377 255L419 248L421 275L379 283Z" fill="#dad8d8"/><path d="M381 266L417 260L417 268L382 275Z" fill="#5a585c"/><path d="M420 262L452 252Q450 276 432 284L420 284Z" fill="#070607"/><path d="M309 62Q318 50 333 50Q348 58 356 76L366 98Q366 108 356 112L340 118L328 112L318 96L310 84Z" fill="#16141b"/><path d="M309 70L322 66L321 100L312 92Z" fill="#c7c7ca"/><ellipse cx="309" cy="47" rx="14" ry="13" fill="#171314"/><path d="M300 52Q304 66 316 66L322 58L312 44Z" fill="#2a2021"/><path d="M337 114L351 112L352 136L340 136Z" fill="#465262"/><path d="M330 110L340 108L342 118L334 120Z" fill="#c9c9cf"/></g></g></svg></div>
<div id="top" class="abs">
<div class="beat" style="left:74px"></div>
<div class="beat" style="left:173px"></div>
<div class="beat" style="left:273px"></div>
<div class="beat" style="left:373px"></div>
<div class="beat" style="left:475px"></div>
<div class="beat" style="left:575px"></div>
<div class="beat" style="left:675px"></div>
<div class="beat" style="left:775px"></div>
<div class="beat" style="left:875px"></div>
<div class="beat" style="left:974px"></div>
<div class="beat" style="left:1074px"></div>
<div class="beat" style="left:1177px"></div>
<div class="beat" style="left:1276px"></div>
<div class="beat" style="left:1376px"></div>
<div class="beat" style="left:1474px"></div>
<div class="beat" style="left:1574px"></div>
<div class="beat" style="left:1673px"></div>
<svg class="abs" style="left:0;top:212px" width="1738" height="108" viewBox="0 212 1738 108"><path d="M0 320v-10.5h2v10.5zM2 320v-7.7h2v7.7zM4 320v-16.9h2v16.9zM6 320v-13.8h2v13.8zM8 320v-13.2h2v13.2zM10 320v-6.1h2v6.1zM12 320v-16.3h2v16.3zM14 320v-14.9h2v14.9zM16 320v-24.0h2v24.0zM18 320v-19.1h2v19.1zM20 320v-10.1h2v10.1zM22 320v-22.5h2v22.5zM24 320v-12.0h2v12.0zM26 320v-17.6h2v17.6zM28 320v-16.8h2v16.8zM30 320v-20.6h2v20.6zM32 320v-9.4h2v9.4zM34 320v-17.0h2v17.0zM36 320v-21.7h2v21.7zM38 320v-19.7h2v19.7zM40 320v-20.7h2v20.7zM42 320v-24.2h2v24.2zM44 320v-20.2h2v20.2zM46 320v-22.1h2v22.1zM48 320v-24.6h2v24.6zM50 320v-19.4h2v19.4zM52 320v-23.3h2v23.3zM54 320v-20.1h2v20.1zM56 320v-18.5h2v18.5zM58 320v-25.4h2v25.4zM60 320v-28.2h2v28.2zM62 320v-27.2h2v27.2zM64 320v-26.1h2v26.1zM66 320v-37.3h2v37.3zM68 320v-25.7h2v25.7zM70 320v-21.0h2v21.0zM72 320v-34.3h2v34.3zM74 320v-29.6h2v29.6zM76 320v-77.0h2v77.0zM78 320v-68.6h2v68.6zM80 320v-37.6h2v37.6zM82 320v-49.7h2v49.7zM84 320v-46.5h2v46.5zM86 320v-43.9h2v43.9zM88 320v-36.9h2v36.9zM90 320v-42.5h2v42.5zM92 320v-46.5h2v46.5zM94 320v-36.9h2v36.9zM96 320v-35.2h2v35.2zM98 320v-30.0h2v30.0zM100 320v-31.7h2v31.7zM102 320v-29.6h2v29.6zM104 320v-33.2h2v33.2zM106 320v-25.5h2v25.5zM108 320v-28.0h2v28.0zM110 320v-35.0h2v35.0zM112 320v-30.4h2v30.4zM114 320v-13.9h2v13.9zM116 320v-32.8h2v32.8zM118 320v-32.3h2v32.3zM120 320v-26.5h2v26.5zM122 320v-21.8h2v21.8zM124 320v-9.1h2v9.1zM126 320v-14.7h2v14.7zM128 320v-10.0h2v10.0zM130 320v-13.2h2v13.2zM132 320v-18.9h2v18.9zM134 320v-18.0h2v18.0zM136 320v-16.2h2v16.2zM138 320v-20.6h2v20.6zM140 320v-14.6h2v14.6zM142 320v-32.7h2v32.7zM144 320v-22.3h2v22.3zM146 320v-12.7h2v12.7zM148 320v-19.5h2v19.5zM150 320v-16.7h2v16.7zM152 320v-22.8h2v22.8zM154 320v-14.3h2v14.3zM156 320v-9.5h2v9.5zM158 320v-27.2h2v27.2zM160 320v-23.5h2v23.5zM162 320v-18.9h2v18.9zM164 320v-17.1h2v17.1zM166 320v-19.7h2v19.7zM168 320v-18.4h2v18.4zM170 320v-28.5h2v28.5zM172 320v-22.9h2v22.9zM174 320v-22.7h2v22.7zM176 320v-65.6h2v65.6zM178 320v-23.0h2v23.0zM180 320v-46.2h2v46.2zM182 320v-42.7h2v42.7zM184 320v-50.6h2v50.6zM186 320v-64.6h2v64.6zM188 320v-47.6h2v47.6zM190 320v-34.3h2v34.3zM192 320v-30.2h2v30.2zM194 320v-34.2h2v34.2zM196 320v-36.6h2v36.6zM198 320v-33.5h2v33.5zM200 320v-25.1h2v25.1zM202 320v-32.5h2v32.5zM204 320v-31.5h2v31.5zM206 320v-24.6h2v24.6zM208 320v-25.0h2v25.0zM210 320v-32.6h2v32.6zM212 320v-36.7h2v36.7zM214 320v-22.2h2v22.2zM216 320v-18.1h2v18.1zM218 320v-34.3h2v34.3zM220 320v-26.4h2v26.4zM222 320v-34.1h2v34.1zM224 320v-26.9h2v26.9zM226 320v-9.8h2v9.8zM228 320v-28.0h2v28.0zM230 320v-30.3h2v30.3zM232 320v-20.5h2v20.5zM234 320v-22.3h2v22.3zM236 320v-17.4h2v17.4zM238 320v-16.0h2v16.0zM240 320v-15.6h2v15.6zM242 320v-14.4h2v14.4zM244 320v-15.5h2v15.5zM246 320v-17.2h2v17.2zM248 320v-16.2h2v16.2zM250 320v-16.4h2v16.4zM252 320v-7.4h2v7.4zM254 320v-11.0h2v11.0zM256 320v-12.6h2v12.6zM258 320v-13.0h2v13.0zM260 320v-16.5h2v16.5zM262 320v-14.5h2v14.5zM264 320v-15.5h2v15.5zM266 320v-12.8h2v12.8zM268 320v-13.0h2v13.0zM270 320v-16.2h2v16.2zM272 320v-15.4h2v15.4zM274 320v-17.3h2v17.3zM276 320v-59.1h2v59.1zM278 320v-51.0h2v51.0zM280 320v-45.1h2v45.1zM282 320v-54.6h2v54.6zM284 320v-42.9h2v42.9zM286 320v-44.9h2v44.9zM288 320v-49.1h2v49.1zM290 320v-27.2h2v27.2zM292 320v-28.2h2v28.2zM294 320v-24.7h2v24.7zM296 320v-23.2h2v23.2zM298 320v-30.4h2v30.4zM300 320v-23.8h2v23.8zM302 320v-19.2h2v19.2zM304 320v-38.5h2v38.5zM306 320v-29.3h2v29.3zM308 320v-22.4h2v22.4zM310 320v-27.5h2v27.5zM312 320v-20.2h2v20.2zM314 320v-21.6h2v21.6zM316 320v-18.6h2v18.6zM318 320v-10.0h2v10.0zM320 320v-21.0h2v21.0zM322 320v-16.1h2v16.1zM324 320v-19.7h2v19.7zM326 320v-20.4h2v20.4zM328 320v-26.3h2v26.3zM330 320v-15.7h2v15.7zM332 320v-14.1h2v14.1zM334 320v-10.7h2v10.7zM336 320v-16.4h2v16.4zM338 320v-19.3h2v19.3zM340 320v-14.9h2v14.9zM342 320v-16.8h2v16.8zM344 320v-6.2h2v6.2zM346 320v-17.0h2v17.0zM348 320v-17.5h2v17.5zM350 320v-16.3h2v16.3zM352 320v-13.2h2v13.2zM354 320v-12.3h2v12.3zM356 320v-14.5h2v14.5zM358 320v-20.1h2v20.1zM360 320v-9.6h2v9.6zM362 320v-14.9h2v14.9zM364 320v-8.8h2v8.8zM366 320v-11.6h2v11.6zM368 320v-12.9h2v12.9zM370 320v-15.8h2v15.8zM372 320v-10.3h2v10.3zM374 320v-6.1h2v6.1zM376 320v-72.5h2v72.5zM378 320v-66.1h2v66.1zM380 320v-51.9h2v51.9zM382 320v-42.7h2v42.7zM384 320v-57.7h2v57.7zM386 320v-48.5h2v48.5zM388 320v-43.0h2v43.0zM390 320v-59.3h2v59.3zM392 320v-38.8h2v38.8zM394 320v-42.1h2v42.1zM396 320v-36.7h2v36.7zM398 320v-20.6h2v20.6zM400 320v-27.6h2v27.6zM402 320v-20.3h2v20.3zM404 320v-26.3h2v26.3zM406 320v-35.4h2v35.4zM408 320v-28.8h2v28.8zM410 320v-27.1h2v27.1zM412 320v-24.6h2v24.6zM414 320v-32.4h2v32.4zM416 320v-32.6h2v32.6zM418 320v-33.0h2v33.0zM420 320v-24.3h2v24.3zM422 320v-20.5h2v20.5zM424 320v-24.5h2v24.5zM426 320v-22.3h2v22.3zM428 320v-19.7h2v19.7zM430 320v-20.3h2v20.3zM432 320v-9.1h2v9.1zM434 320v-23.5h2v23.5zM436 320v-28.3h2v28.3zM438 320v-32.4h2v32.4zM440 320v-34.3h2v34.3zM442 320v-31.7h2v31.7zM444 320v-28.2h2v28.2zM446 320v-39.1h2v39.1zM448 320v-29.3h2v29.3zM450 320v-38.8h2v38.8zM452 320v-37.4h2v37.4zM454 320v-27.9h2v27.9zM456 320v-29.2h2v29.2zM458 320v-31.2h2v31.2zM460 320v-27.5h2v27.5zM462 320v-26.3h2v26.3zM464 320v-9.3h2v9.3zM466 320v-18.1h2v18.1zM468 320v-16.9h2v16.9zM470 320v-20.1h2v20.1zM472 320v-21.0h2v21.0zM474 320v-8.9h2v8.9zM476 320v-22.0h2v22.0zM478 320v-70.2h2v70.2zM480 320v-28.4h2v28.4zM482 320v-59.8h2v59.8zM484 320v-45.5h2v45.5zM486 320v-49.3h2v49.3zM488 320v-62.9h2v62.9zM490 320v-41.9h2v41.9zM492 320v-38.8h2v38.8zM494 320v-41.0h2v41.0zM496 320v-17.1h2v17.1zM498 320v-29.4h2v29.4zM500 320v-34.6h2v34.6zM502 320v-14.5h2v14.5zM504 320v-24.6h2v24.6zM506 320v-29.6h2v29.6zM508 320v-29.7h2v29.7zM510 320v-27.2h2v27.2zM512 320v-17.8h2v17.8zM514 320v-20.2h2v20.2zM516 320v-38.6h2v38.6zM518 320v-19.9h2v19.9zM520 320v-32.7h2v32.7zM522 320v-22.2h2v22.2zM524 320v-24.9h2v24.9zM526 320v-18.2h2v18.2zM528 320v-17.1h2v17.1zM530 320v-16.3h2v16.3zM532 320v-23.0h2v23.0zM534 320v-23.2h2v23.2zM536 320v-17.7h2v17.7zM538 320v-8.3h2v8.3zM540 320v-14.6h2v14.6zM542 320v-17.0h2v17.0zM544 320v-15.0h2v15.0zM546 320v-15.7h2v15.7zM548 320v-13.4h2v13.4zM550 320v-13.1h2v13.1zM552 320v-20.1h2v20.1zM554 320v-20.0h2v20.0zM556 320v-16.2h2v16.2zM558 320v-19.5h2v19.5zM560 320v-15.8h2v15.8zM562 320v-6.5h2v6.5zM564 320v-12.9h2v12.9zM566 320v-17.7h2v17.7zM568 320v-13.5h2v13.5zM570 320v-10.5h2v10.5zM572 320v-18.6h2v18.6zM574 320v-17.2h2v17.2zM576 320v-16.2h2v16.2zM578 320v-65.6h2v65.6zM580 320v-28.1h2v28.1zM582 320v-56.6h2v56.6zM584 320v-52.7h2v52.7zM586 320v-18.4h2v18.4zM588 320v-33.4h2v33.4zM590 320v-39.6h2v39.6zM592 320v-33.9h2v33.9zM594 320v-41.3h2v41.3zM596 320v-36.7h2v36.7zM598 320v-33.3h2v33.3zM600 320v-18.7h2v18.7zM602 320v-25.1h2v25.1zM604 320v-27.4h2v27.4zM606 320v-41.1h2v41.1zM608 320v-18.6h2v18.6zM610 320v-10.0h2v10.0zM612 320v-10.1h2v10.1zM614 320v-20.9h2v20.9zM616 320v-23.3h2v23.3zM618 320v-24.9h2v24.9zM620 320v-21.7h2v21.7zM622 320v-20.3h2v20.3zM624 320v-17.0h2v17.0zM626 320v-16.5h2v16.5zM628 320v-20.7h2v20.7zM630 320v-22.6h2v22.6zM632 320v-18.0h2v18.0zM634 320v-17.9h2v17.9zM636 320v-21.8h2v21.8zM638 320v-9.7h2v9.7zM640 320v-15.2h2v15.2zM642 320v-20.0h2v20.0zM644 320v-8.3h2v8.3zM646 320v-21.6h2v21.6zM648 320v-19.0h2v19.0zM650 320v-20.3h2v20.3zM652 320v-10.2h2v10.2zM654 320v-16.1h2v16.1zM656 320v-19.0h2v19.0zM658 320v-17.4h2v17.4zM660 320v-15.8h2v15.8zM662 320v-12.7h2v12.7zM664 320v-13.2h2v13.2zM666 320v-15.8h2v15.8zM668 320v-13.0h2v13.0zM670 320v-15.4h2v15.4zM672 320v-6.0h2v6.0zM674 320v-14.5h2v14.5zM676 320v-14.0h2v14.0zM678 320v-63.2h2v63.2zM680 320v-49.9h2v49.9zM682 320v-58.4h2v58.4zM684 320v-55.5h2v55.5zM686 320v-40.9h2v40.9zM688 320v-49.0h2v49.0zM690 320v-17.1h2v17.1zM692 320v-37.7h2v37.7zM694 320v-35.3h2v35.3zM696 320v-48.5h2v48.5zM698 320v-13.7h2v13.7zM700 320v-30.0h2v30.0zM702 320v-23.6h2v23.6zM704 320v-35.2h2v35.2zM706 320v-31.4h2v31.4zM708 320v-36.2h2v36.2zM710 320v-35.5h2v35.5zM712 320v-28.3h2v28.3zM714 320v-36.8h2v36.8zM716 320v-22.1h2v22.1zM718 320v-29.2h2v29.2zM720 320v-45.4h2v45.4zM722 320v-28.8h2v28.8zM724 320v-36.2h2v36.2zM726 320v-11.6h2v11.6zM728 320v-23.2h2v23.2zM730 320v-31.1h2v31.1zM732 320v-37.9h2v37.9zM734 320v-29.6h2v29.6zM736 320v-27.9h2v27.9zM738 320v-11.1h2v11.1zM740 320v-24.0h2v24.0zM742 320v-21.0h2v21.0zM744 320v-8.3h2v8.3zM746 320v-18.7h2v18.7zM748 320v-17.1h2v17.1zM750 320v-25.4h2v25.4zM752 320v-20.3h2v20.3zM754 320v-23.0h2v23.0zM756 320v-17.0h2v17.0zM758 320v-18.4h2v18.4zM760 320v-17.1h2v17.1zM762 320v-10.1h2v10.1zM764 320v-19.5h2v19.5zM766 320v-9.8h2v9.8zM768 320v-7.3h2v7.3zM770 320v-22.0h2v22.0zM772 320v-21.7h2v21.7zM774 320v-18.4h2v18.4zM776 320v-22.5h2v22.5zM778 320v-57.3h2v57.3zM780 320v-44.3h2v44.3zM782 320v-40.6h2v40.6zM784 320v-46.5h2v46.5zM786 320v-21.0h2v21.0zM788 320v-34.0h2v34.0zM790 320v-52.8h2v52.8zM792 320v-32.5h2v32.5zM794 320v-30.4h2v30.4zM796 320v-24.6h2v24.6zM798 320v-33.4h2v33.4zM800 320v-32.2h2v32.2zM802 320v-28.7h2v28.7zM804 320v-24.2h2v24.2zM806 320v-12.4h2v12.4zM808 320v-21.6h2v21.6zM810 320v-9.2h2v9.2zM812 320v-17.8h2v17.8zM814 320v-25.4h2v25.4zM816 320v-31.7h2v31.7zM818 320v-8.8h2v8.8zM820 320v-16.8h2v16.8zM822 320v-21.1h2v21.1zM824 320v-17.8h2v17.8zM826 320v-20.1h2v20.1zM828 320v-21.5h2v21.5zM830 320v-14.9h2v14.9zM832 320v-23.0h2v23.0zM834 320v-21.8h2v21.8zM836 320v-16.8h2v16.8zM838 320v-21.1h2v21.1zM840 320v-20.6h2v20.6zM842 320v-26.2h2v26.2zM844 320v-34.4h2v34.4zM846 320v-28.6h2v28.6zM848 320v-32.9h2v32.9zM850 320v-24.9h2v24.9zM852 320v-29.1h2v29.1zM854 320v-30.6h2v30.6zM856 320v-20.9h2v20.9zM858 320v-13.0h2v13.0zM860 320v-24.1h2v24.1zM862 320v-23.1h2v23.1zM864 320v-21.1h2v21.1zM866 320v-15.6h2v15.6zM868 320v-12.9h2v12.9zM870 320v-16.3h2v16.3zM872 320v-13.3h2v13.3zM874 320v-12.1h2v12.1zM876 320v-12.5h2v12.5zM878 320v-62.8h2v62.8zM880 320v-48.4h2v48.4zM882 320v-35.0h2v35.0zM884 320v-41.7h2v41.7zM886 320v-46.3h2v46.3zM888 320v-23.3h2v23.3zM890 320v-34.5h2v34.5zM892 320v-16.6h2v16.6zM894 320v-29.3h2v29.3zM896 320v-30.1h2v30.1zM898 320v-36.4h2v36.4zM900 320v-26.7h2v26.7zM902 320v-26.2h2v26.2zM904 320v-40.2h2v40.2zM906 320v-17.9h2v17.9zM908 320v-27.7h2v27.7zM910 320v-20.1h2v20.1zM912 320v-22.2h2v22.2zM914 320v-22.0h2v22.0zM916 320v-15.3h2v15.3zM918 320v-17.5h2v17.5zM920 320v-21.7h2v21.7zM922 320v-17.4h2v17.4zM924 320v-18.6h2v18.6zM926 320v-16.7h2v16.7zM928 320v-24.8h2v24.8zM930 320v-16.0h2v16.0zM932 320v-26.6h2v26.6zM934 320v-11.5h2v11.5zM936 320v-27.3h2v27.3zM938 320v-8.2h2v8.2zM940 320v-20.7h2v20.7zM942 320v-20.7h2v20.7zM944 320v-14.0h2v14.0zM946 320v-19.3h2v19.3zM948 320v-16.4h2v16.4zM950 320v-13.0h2v13.0zM952 320v-14.7h2v14.7zM954 320v-15.8h2v15.8zM956 320v-13.4h2v13.4zM958 320v-16.6h2v16.6zM960 320v-12.8h2v12.8zM962 320v-7.4h2v7.4zM964 320v-12.3h2v12.3zM966 320v-16.2h2v16.2zM968 320v-16.0h2v16.0zM970 320v-14.6h2v14.6zM972 320v-14.2h2v14.2zM974 320v-14.2h2v14.2zM976 320v-62.0h2v62.0zM978 320v-55.8h2v55.8zM980 320v-52.9h2v52.9zM982 320v-31.5h2v31.5zM984 320v-29.3h2v29.3zM986 320v-34.0h2v34.0zM988 320v-30.7h2v30.7zM990 320v-15.9h2v15.9zM992 320v-16.6h2v16.6zM994 320v-37.4h2v37.4zM996 320v-15.1h2v15.1zM998 320v-31.8h2v31.8zM1000 320v-25.4h2v25.4zM1002 320v-45.7h2v45.7zM1004 320v-32.7h2v32.7zM1006 320v-33.0h2v33.0zM1008 320v-34.9h2v34.9zM1010 320v-21.9h2v21.9zM1012 320v-39.2h2v39.2zM1014 320v-21.9h2v21.9zM1016 320v-18.9h2v18.9zM1018 320v-29.1h2v29.1zM1020 320v-19.8h2v19.8zM1022 320v-24.6h2v24.6zM1024 320v-20.8h2v20.8zM1026 320v-22.6h2v22.6zM1028 320v-12.9h2v12.9zM1030 320v-24.0h2v24.0zM1032 320v-23.0h2v23.0zM1034 320v-19.1h2v19.1zM1036 320v-17.7h2v17.7zM1038 320v-21.8h2v21.8zM1040 320v-24.5h2v24.5zM1042 320v-22.3h2v22.3zM1044 320v-23.0h2v23.0zM1046 320v-21.1h2v21.1zM1048 320v-23.0h2v23.0zM1050 320v-24.9h2v24.9zM1052 320v-19.9h2v19.9zM1054 320v-13.6h2v13.6zM1056 320v-9.8h2v9.8zM1058 320v-22.7h2v22.7zM1060 320v-27.7h2v27.7zM1062 320v-20.5h2v20.5zM1064 320v-8.1h2v8.1zM1066 320v-10.7h2v10.7zM1068 320v-19.3h2v19.3zM1070 320v-19.2h2v19.2zM1072 320v-16.1h2v16.1zM1074 320v-8.8h2v8.8zM1076 320v-73.0h2v73.0zM1078 320v-64.7h2v64.7zM1080 320v-50.4h2v50.4zM1082 320v-51.0h2v51.0zM1084 320v-49.7h2v49.7zM1086 320v-49.6h2v49.6zM1088 320v-25.4h2v25.4zM1090 320v-32.0h2v32.0zM1092 320v-41.8h2v41.8zM1094 320v-35.2h2v35.2zM1096 320v-27.3h2v27.3zM1098 320v-32.2h2v32.2zM1100 320v-33.2h2v33.2zM1102 320v-35.9h2v35.9zM1104 320v-27.1h2v27.1zM1106 320v-22.4h2v22.4zM1108 320v-24.9h2v24.9zM1110 320v-21.0h2v21.0zM1112 320v-19.3h2v19.3zM1114 320v-19.5h2v19.5zM1116 320v-21.6h2v21.6zM1118 320v-22.8h2v22.8zM1120 320v-17.8h2v17.8zM1122 320v-20.9h2v20.9zM1124 320v-17.3h2v17.3zM1126 320v-22.6h2v22.6zM1128 320v-16.7h2v16.7zM1130 320v-21.4h2v21.4zM1132 320v-21.9h2v21.9zM1134 320v-12.3h2v12.3zM1136 320v-7.5h2v7.5zM1138 320v-16.9h2v16.9zM1140 320v-19.5h2v19.5zM1142 320v-19.8h2v19.8zM1144 320v-18.5h2v18.5zM1146 320v-19.7h2v19.7zM1148 320v-16.1h2v16.1zM1150 320v-20.1h2v20.1zM1152 320v-9.0h2v9.0zM1154 320v-15.6h2v15.6zM1156 320v-23.2h2v23.2zM1158 320v-18.2h2v18.2zM1160 320v-18.9h2v18.9zM1162 320v-14.8h2v14.8zM1164 320v-16.4h2v16.4zM1166 320v-21.8h2v21.8zM1168 320v-15.5h2v15.5zM1170 320v-16.6h2v16.6zM1172 320v-15.0h2v15.0zM1174 320v-15.5h2v15.5zM1176 320v-13.3h2v13.3zM1178 320v-11.9h2v11.9zM1180 320v-61.9h2v61.9zM1182 320v-62.0h2v62.0zM1184 320v-30.5h2v30.5zM1186 320v-18.2h2v18.2zM1188 320v-42.8h2v42.8zM1190 320v-42.3h2v42.3zM1192 320v-30.9h2v30.9zM1194 320v-31.9h2v31.9zM1196 320v-37.1h2v37.1zM1198 320v-26.9h2v26.9zM1200 320v-45.1h2v45.1zM1202 320v-25.4h2v25.4zM1204 320v-10.4h2v10.4zM1206 320v-30.3h2v30.3zM1208 320v-28.8h2v28.8zM1210 320v-28.3h2v28.3zM1212 320v-10.2h2v10.2zM1214 320v-29.0h2v29.0zM1216 320v-26.1h2v26.1zM1218 320v-22.6h2v22.6zM1220 320v-25.4h2v25.4zM1222 320v-27.1h2v27.1zM1224 320v-34.3h2v34.3zM1226 320v-33.4h2v33.4zM1228 320v-22.9h2v22.9zM1230 320v-24.2h2v24.2zM1232 320v-22.5h2v22.5zM1234 320v-23.4h2v23.4zM1236 320v-12.0h2v12.0zM1238 320v-19.1h2v19.1zM1240 320v-20.3h2v20.3zM1242 320v-36.0h2v36.0zM1244 320v-22.1h2v22.1zM1246 320v-27.4h2v27.4zM1248 320v-25.4h2v25.4zM1250 320v-27.0h2v27.0zM1252 320v-33.6h2v33.6zM1254 320v-24.9h2v24.9zM1256 320v-27.9h2v27.9zM1258 320v-20.8h2v20.8zM1260 320v-17.9h2v17.9zM1262 320v-21.2h2v21.2zM1264 320v-19.9h2v19.9zM1266 320v-17.0h2v17.0zM1268 320v-8.5h2v8.5zM1270 320v-8.4h2v8.4zM1272 320v-14.0h2v14.0zM1274 320v-17.1h2v17.1zM1276 320v-14.4h2v14.4zM1278 320v-76.0h2v76.0zM1280 320v-67.8h2v67.8zM1282 320v-64.0h2v64.0zM1284 320v-51.6h2v51.6zM1286 320v-46.1h2v46.1zM1288 320v-49.3h2v49.3zM1290 320v-39.3h2v39.3zM1292 320v-46.6h2v46.6zM1294 320v-35.4h2v35.4zM1296 320v-44.4h2v44.4zM1298 320v-34.0h2v34.0zM1300 320v-38.6h2v38.6zM1302 320v-21.4h2v21.4zM1304 320v-29.5h2v29.5zM1306 320v-22.5h2v22.5zM1308 320v-20.6h2v20.6zM1310 320v-36.3h2v36.3zM1312 320v-34.0h2v34.0zM1314 320v-23.7h2v23.7zM1316 320v-33.0h2v33.0zM1318 320v-31.3h2v31.3zM1320 320v-24.5h2v24.5zM1322 320v-21.8h2v21.8zM1324 320v-10.8h2v10.8zM1326 320v-24.1h2v24.1zM1328 320v-26.8h2v26.8zM1330 320v-26.3h2v26.3zM1332 320v-21.0h2v21.0zM1334 320v-22.3h2v22.3zM1336 320v-27.1h2v27.1zM1338 320v-24.6h2v24.6zM1340 320v-22.4h2v22.4zM1342 320v-24.5h2v24.5zM1344 320v-25.2h2v25.2zM1346 320v-25.8h2v25.8zM1348 320v-23.8h2v23.8zM1350 320v-20.3h2v20.3zM1352 320v-17.6h2v17.6zM1354 320v-22.8h2v22.8zM1356 320v-22.4h2v22.4zM1358 320v-20.4h2v20.4zM1360 320v-21.6h2v21.6zM1362 320v-28.7h2v28.7zM1364 320v-18.0h2v18.0zM1366 320v-22.0h2v22.0zM1368 320v-26.4h2v26.4zM1370 320v-16.2h2v16.2zM1372 320v-16.3h2v16.3zM1374 320v-22.5h2v22.5zM1376 320v-16.9h2v16.9zM1378 320v-57.0h2v57.0zM1380 320v-50.7h2v50.7zM1382 320v-49.2h2v49.2zM1384 320v-51.5h2v51.5zM1386 320v-34.2h2v34.2zM1388 320v-32.8h2v32.8zM1390 320v-36.1h2v36.1zM1392 320v-13.0h2v13.0zM1394 320v-26.9h2v26.9zM1396 320v-22.6h2v22.6zM1398 320v-25.6h2v25.6zM1400 320v-24.7h2v24.7zM1402 320v-22.4h2v22.4zM1404 320v-28.6h2v28.6zM1406 320v-22.0h2v22.0zM1408 320v-21.8h2v21.8zM1410 320v-18.9h2v18.9zM1412 320v-24.0h2v24.0zM1414 320v-21.4h2v21.4zM1416 320v-24.0h2v24.0zM1418 320v-18.6h2v18.6zM1420 320v-22.0h2v22.0zM1422 320v-19.6h2v19.6zM1424 320v-13.6h2v13.6zM1426 320v-21.2h2v21.2zM1428 320v-21.4h2v21.4zM1430 320v-17.6h2v17.6zM1432 320v-11.9h2v11.9zM1434 320v-13.7h2v13.7zM1436 320v-14.8h2v14.8zM1438 320v-15.0h2v15.0zM1440 320v-15.8h2v15.8zM1442 320v-17.3h2v17.3zM1444 320v-19.2h2v19.2zM1446 320v-13.7h2v13.7zM1448 320v-18.0h2v18.0zM1450 320v-13.8h2v13.8zM1452 320v-7.2h2v7.2zM1454 320v-16.1h2v16.1zM1456 320v-15.6h2v15.6zM1458 320v-8.9h2v8.9zM1460 320v-12.8h2v12.8zM1462 320v-9.4h2v9.4zM1464 320v-16.8h2v16.8zM1466 320v-13.0h2v13.0zM1468 320v-14.8h2v14.8zM1470 320v-15.4h2v15.4zM1472 320v-16.2h2v16.2zM1474 320v-12.8h2v12.8zM1476 320v-72.0h2v72.0zM1478 320v-63.6h2v63.6zM1480 320v-55.0h2v55.0zM1482 320v-31.9h2v31.9zM1484 320v-20.3h2v20.3zM1486 320v-29.8h2v29.8zM1488 320v-40.6h2v40.6zM1490 320v-39.2h2v39.2zM1492 320v-29.4h2v29.4zM1494 320v-33.1h2v33.1zM1496 320v-35.3h2v35.3zM1498 320v-30.7h2v30.7zM1500 320v-16.3h2v16.3zM1502 320v-32.1h2v32.1zM1504 320v-23.4h2v23.4zM1506 320v-36.9h2v36.9zM1508 320v-32.2h2v32.2zM1510 320v-25.3h2v25.3zM1512 320v-12.9h2v12.9zM1514 320v-26.9h2v26.9zM1516 320v-22.3h2v22.3zM1518 320v-21.2h2v21.2zM1520 320v-22.0h2v22.0zM1522 320v-19.0h2v19.0zM1524 320v-19.8h2v19.8zM1526 320v-23.0h2v23.0zM1528 320v-23.3h2v23.3zM1530 320v-20.3h2v20.3zM1532 320v-25.3h2v25.3zM1534 320v-20.2h2v20.2zM1536 320v-17.5h2v17.5zM1538 320v-16.6h2v16.6zM1540 320v-18.6h2v18.6zM1542 320v-14.5h2v14.5zM1544 320v-19.6h2v19.6zM1546 320v-14.4h2v14.4zM1548 320v-9.1h2v9.1zM1550 320v-18.8h2v18.8zM1552 320v-18.0h2v18.0zM1554 320v-19.4h2v19.4zM1556 320v-17.5h2v17.5zM1558 320v-17.5h2v17.5zM1560 320v-17.3h2v17.3zM1562 320v-17.0h2v17.0zM1564 320v-12.2h2v12.2zM1566 320v-6.2h2v6.2zM1568 320v-16.6h2v16.6zM1570 320v-16.3h2v16.3zM1572 320v-17.2h2v17.2zM1574 320v-15.7h2v15.7zM1576 320v-60.0h2v60.0zM1578 320v-54.0h2v54.0zM1580 320v-63.1h2v63.1zM1582 320v-39.9h2v39.9zM1584 320v-26.3h2v26.3zM1586 320v-42.2h2v42.2zM1588 320v-44.2h2v44.2zM1590 320v-29.9h2v29.9zM1592 320v-44.8h2v44.8zM1594 320v-39.5h2v39.5zM1596 320v-22.4h2v22.4zM1598 320v-32.7h2v32.7zM1600 320v-11.7h2v11.7zM1602 320v-22.4h2v22.4zM1604 320v-29.4h2v29.4zM1606 320v-21.8h2v21.8zM1608 320v-9.8h2v9.8zM1610 320v-27.6h2v27.6zM1612 320v-19.9h2v19.9zM1614 320v-21.1h2v21.1zM1616 320v-26.1h2v26.1zM1618 320v-12.1h2v12.1zM1620 320v-25.7h2v25.7zM1622 320v-30.6h2v30.6zM1624 320v-27.3h2v27.3zM1626 320v-11.2h2v11.2zM1628 320v-19.1h2v19.1zM1630 320v-11.7h2v11.7zM1632 320v-23.0h2v23.0zM1634 320v-21.6h2v21.6zM1636 320v-11.6h2v11.6zM1638 320v-26.6h2v26.6zM1640 320v-28.9h2v28.9zM1642 320v-26.7h2v26.7zM1644 320v-29.9h2v29.9zM1646 320v-34.6h2v34.6zM1648 320v-32.0h2v32.0zM1650 320v-38.2h2v38.2zM1652 320v-33.1h2v33.1zM1654 320v-31.8h2v31.8zM1656 320v-28.7h2v28.7zM1658 320v-23.9h2v23.9zM1660 320v-27.9h2v27.9zM1662 320v-23.9h2v23.9zM1664 320v-20.7h2v20.7zM1666 320v-19.1h2v19.1zM1668 320v-20.2h2v20.2zM1670 320v-21.8h2v21.8zM1672 320v-15.6h2v15.6zM1674 320v-17.6h2v17.6zM1676 320v-67.5h2v67.5zM1678 320v-51.9h2v51.9zM1680 320v-56.7h2v56.7zM1682 320v-50.2h2v50.2zM1684 320v-51.6h2v51.6zM1686 320v-46.5h2v46.5zM1688 320v-17.1h2v17.1zM1690 320v-38.2h2v38.2zM1692 320v-31.5h2v31.5zM1694 320v-39.4h2v39.4zM1696 320v-35.1h2v35.1zM1698 320v-31.4h2v31.4zM1700 320v-27.1h2v27.1zM1702 320v-32.1h2v32.1zM1704 320v-24.2h2v24.2zM1706 320v-30.3h2v30.3zM1708 320v-29.3h2v29.3zM1710 320v-32.9h2v32.9zM1712 320v-29.5h2v29.5zM1714 320v-18.1h2v18.1zM1716 320v-25.5h2v25.5zM1718 320v-27.8h2v27.8zM1720 320v-28.5h2v28.5zM1722 320v-11.2h2v11.2zM1724 320v-32.8h2v32.8zM1726 320v-22.9h2v22.9zM1728 320v-18.6h2v18.6zM1730 320v-23.9h2v23.9zM1732 320v-9.7h2v9.7zM1734 320v-21.1h2v21.1zM1736 320v-21.2h2v21.2z" fill="#70849a"/></svg>
<div class="topline"></div>
<div class="tl" style="left:371.2px">00:20</div>
<div class="tl" style="left:1371.2px">00:25</div>
<div id="chordrow" class="row" style="top:110px">
<div class="acbg" style="left:760.0px;width:401.4px"></div>
<div class="dv" style="left:360px"></div>
<div class="cell" style="left:363.7px">Bm</div>
<div class="dv" style="left:760px;opacity:.45"></div>
<div class="cell" style="left:763.6px">C</div>
<div class="dv" style="left:1161px"></div>
<div class="cell" style="left:1164.2px">Em</div>
<div class="dv" style="left:1562px"></div>
<div class="cell" style="left:1564.7px">D</div>
</div>
<div id="lyricrow" class="row" style="top:162px">
<div class="acbg" style="left:702.2px;width:494.4px"></div>
<div class="dv" style="left:4px"></div>
<div class="cell" style="left:7.4px">That</div>
<div class="dv" style="left:114px"></div>
<div class="cell" style="left:117.3px">I</div>
<div class="dv" style="left:139px"></div>
<div class="cell" style="left:142.6px">am</div>
<div class="dv" style="left:215px"></div>
<div class="cell" style="left:217.6px">ready</div>
<div class="dv" style="left:349px"></div>
<div class="cell" style="left:353.3px">to</div>
<div class="dv" style="left:406px"></div>
<div class="cell" style="left:407.6px">go,</div>
<div class="dv" style="left:478px"></div>
<div class="cell" style="left:480.6px">heartbeat</div>
<div class="dv" style="left:702px;opacity:.45"></div>
<div class="cell" style="left:704.8px">My</div>
<div class="dv" style="left:833px;opacity:.45"></div>
<div class="cell" style="left:836.1px">heartbeat</div>
<div class="dv" style="left:1197px"></div>
<div class="cell" style="left:1199.4px">I</div>
<div class="dv" style="left:1217px"></div>
<div class="cell" style="left:1221.9px">wanted</div>
<div class="dv" style="left:1365px"></div>
<div class="cell" style="left:1368.4px">you</div>
<div class="dv" style="left:1440px"></div>
<div class="cell" style="left:1444.5px">to</div>
<div class="dv" style="left:1488px"></div>
<div class="cell" style="left:1490.1px">know</div>
<div class="dv" style="left:1596px"></div>
<div class="cell" style="left:1600.5px">Whenever</div>
</div>
<div class="abs" style="left:0;top:320px;width:1738px;height:2px;background:#05070b"></div>
<div class="abs" style="left:956.0px;top:0;width:2px;height:320px;background:#c4222d"></div>
</div>
<div id="sheet" class="abs">
<div class="srow" style="top:0px">
<div class="pl" style="left:79.7px"></div>
<div class="pl" style="left:108.6px"></div>
<div class="pl" style="left:124.6px"></div>
<div class="pl" style="left:140.5px"></div>
<div class="pl" style="left:156.9px"></div>
<div class="pl" style="left:172.1px"></div>
<div class="pl" style="left:184.2px"></div>
<div class="pl" style="left:195.2px"></div>
<div class="pl" style="left:206.2px"></div>
<div class="pl" style="left:220.3px"></div>
<div class="pl" style="left:237.4px"></div>
<div class="pl" style="left:254.1px"></div>
<div class="pl" style="left:270.1px"></div>
<div class="pl" style="left:286.1px"></div>
<div class="pl" style="left:297.5px"></div>
<div class="pl" style="left:308.1px"></div>
<div class="pl" style="left:319.1px"></div>
<div class="pl" style="left:332.4px"></div>
<div class="pl" style="left:348.7px"></div>
<div class="pl" style="left:365.1px"></div>
<div class="pl" style="left:381.4px"></div>
<div class="pl" style="left:397.4px"></div>
<div class="pl" style="left:408.8px"></div>
<div class="pl" style="left:420.2px"></div>
<div class="pl" style="left:432.3px"></div>
<div class="pl" style="left:445.6px"></div>
<div class="pl" style="left:462.3px"></div>
<div class="pl" style="left:479.1px"></div>
<div class="pl" style="left:496.2px"></div>
<div class="pl" style="left:511.4px"></div>
<div class="pl" style="left:522.4px"></div>
<div class="pl" style="left:533.4px"></div>
<div class="pl" style="left:544.4px"></div>
<div class="pl" style="left:556.2px"></div>
<div class="pl" style="left:615.1px"></div>
<div class="pl" style="left:686.9px"></div>
<div class="pl" style="left:763.6px"></div>
<div class="pl" style="left:840.4px"></div>
<div class="pl" style="left:908.1px"></div>
<div class="pl" style="left:972.2px"></div>
<div class="pl" style="left:1037.0px"></div>
<div class="pl" style="left:1101.5px"></div>
<div class="pl" style="left:1167.2px"></div>
<div class="pl" style="left:1231.6px"></div>
<div class="pl" style="left:1295.3px"></div>
<div class="pl" style="left:1342.5px"></div>
<div class="pl" style="left:1381.8px"></div>
<div class="pl" style="left:1421.2px"></div>
<div class="pl" style="left:1461.2px"></div>
<div class="pl" style="left:1502.9px"></div>
<div class="pl" style="left:1569.7px"></div>
<div class="st" style="left:79.7px">00:00</div>
<div class="st" style="left:106.1px">00:00</div>
<div class="st" style="left:251.1px">00:05</div>
<div class="st" style="left:395.1px">00:10</div>
<div class="st" style="left:531.1px">00:15</div>
<div class="st" style="left:1098.7px">00:20</div>
<div class="ch past" style="left:104.9px">Em</div>
<div class="ch past" style="left:168.8px">D</div>
<div class="ch past" style="left:217.0px">Bm</div>
<div class="ch past" style="left:282.8px">C</div>
<div class="ch past" style="left:329.1px">Em</div>
<div class="ch past" style="left:392.9px">D</div>
<div class="ch past" style="left:441.2px">Bm</div>
<div class="ch past" style="left:507.0px">C</div>
<div class="ch past" style="left:553.3px">Em</div>
<div class="ch past" style="left:826.8px">D</div>
<div class="ch past" style="left:1090.7px">Bm</div>
<div class="ch cur" style="left:1334.8px">C</div>
<div class="ch " style="left:1494.4px">Em</div>
<div class="ly past" style="left:557.2px;transform:scaleX(1.060)">I</div>
<div class="ly past" style="left:574.5px;transform:scaleX(1.020)">wanted</div>
<div class="ly past" style="left:685.7px;transform:scaleX(1.010)">you</div>
<div class="ly past" style="left:743.4px;transform:scaleX(1.060)">to</div>
<div class="ly past" style="left:777.4px;transform:scaleX(1.044)">know</div>
<div class="ly past" style="left:863.0px;transform:scaleX(0.984)">That</div>
<div class="ly past" style="left:932.0px;transform:scaleX(1.060)">I</div>
<div class="ly past" style="left:948.8px;transform:scaleX(1.029)">am</div>
<div class="ly past" style="left:998.4px;transform:scaleX(0.991)">ready</div>
<div class="ly past" style="left:1085.3px;transform:scaleX(1.060)">to</div>
<div class="ly past" style="left:1120.7px;transform:scaleX(0.975)">go,</div>
<div class="ly past" style="left:1167.2px;transform:scaleX(1.028)">heartbeat</div>
<div class="ly cur" style="left:1310.8px;transform:scaleX(1.060)">My</div>
<div class="ly cur" style="left:1363.2px;transform:scaleX(1.028)">heartbeat</div>
<div class="ly " style="left:1509.1px;transform:scaleX(1.060)">I</div>
<div class="ly " style="left:1526.9px;transform:scaleX(1.015)">wanted</div>
</div>
<div class="srow" style="top:248px">
<div class="pl" style="left:89.6px"></div>
<div class="pl" style="left:163.7px"></div>
<div class="pl" style="left:239.7px"></div>
<div class="pl" style="left:317.2px"></div>
<div class="pl" style="left:394.3px"></div>
<div class="pl" style="left:470.3px"></div>
<div class="pl" style="left:549.0px"></div>
<div class="pl" style="left:625.7px"></div>
<div class="pl" style="left:703.2px"></div>
<div class="pl" style="left:780.3px"></div>
<div class="pl" style="left:824.4px"></div>
<div class="pl" style="left:858.1px"></div>
<div class="pl" style="left:893.1px"></div>
<div class="pl" style="left:927.7px"></div>
<div class="pl" style="left:962.3px"></div>
<div class="pl" style="left:1024.8px"></div>
<div class="pl" style="left:1101.9px"></div>
<div class="pl" style="left:1178.6px"></div>
<div class="pl" style="left:1259.2px"></div>
<div class="pl" style="left:1327.2px"></div>
<div class="pl" style="left:1390.1px"></div>
<div class="pl" style="left:1455.7px"></div>
<div class="pl" style="left:1520.6px"></div>
<div class="st" style="left:85.1px">00:25</div>
<div class="st" style="left:821.2px">00:30</div>
<div class="st" style="left:1389.7px">00:35</div>
<div class="ch " style="left:228.8px">D</div>
<div class="ch " style="left:537.3px">Bm</div>
<div class="ch " style="left:819.3px">C</div>
<div class="ch " style="left:957.0px">Em</div>
<div class="ch " style="left:1246.8px">D</div>
<div class="ch " style="left:1510.9px">Bm</div>
<div class="ly " style="left:80.4px;transform:scaleX(1.012)">you</div>
<div class="ly " style="left:138.2px;transform:scaleX(1.060)">to</div>
<div class="ly " style="left:172.5px;transform:scaleX(1.039)">know</div>
<div class="ly " style="left:258.2px;transform:scaleX(1.012)">Whenever</div>
<div class="ly " style="left:413.3px;transform:scaleX(1.002)">you</div>
<div class="ly " style="left:469.7px;transform:scaleX(1.018)">are</div>
<div class="ly " style="left:522.2px;transform:scaleX(0.993)">around,</div>
<div class="ly " style="left:633.9px;transform:scaleX(1.031)">can't</div>
<div class="ly " style="left:709.7px;transform:scaleX(0.923)">speak</div>
<div class="ly " style="left:794.7px;transform:scaleX(1.060)">I</div>
<div class="ly " style="left:811.7px;transform:scaleX(1.003)">can't</div>
<div class="ly " style="left:885.7px;transform:scaleX(0.944)">speak</div>
<div class="ly " style="left:972.5px;transform:scaleX(1.060)">I</div>
<div class="ly " style="left:990.2px;transform:scaleX(1.020)">wanted</div>
<div class="ly " style="left:1101.4px;transform:scaleX(1.028)">you</div>
<div class="ly " style="left:1160.0px;transform:scaleX(1.060)">to</div>
<div class="ly " style="left:1195.6px;transform:scaleX(0.997)">know</div>
<div class="ly " style="left:1277.7px;transform:scaleX(1.016)">That</div>
<div class="ly " style="left:1348.7px;transform:scaleX(1.060)">I</div>
<div class="ly " style="left:1365.5px;transform:scaleX(0.973)">am</div>
<div class="ly " style="left:1412.8px;transform:scaleX(0.986)">ready</div>
<div class="ly " style="left:1499.3px;transform:scaleX(1.060)">to</div>
<div class="ly " style="left:1535.4px;transform:scaleX(0.985)">go,</div>
</div>
<div class="srow" style="top:496px">
<div class="pl" style="left:82.0px"></div>
<div class="pl" style="left:146.2px"></div>
<div class="pl" style="left:210.8px"></div>
<div class="pl" style="left:256.0px"></div>
<div class="pl" style="left:294.8px"></div>
<div class="pl" style="left:333.9px"></div>
<div class="pl" style="left:374.2px"></div>
<div class="pl" style="left:414.1px"></div>
<div class="pl" style="left:482.1px"></div>
<div class="pl" style="left:559.2px"></div>
<div class="pl" style="left:635.2px"></div>
<div class="pl" style="left:713.1px"></div>
<div class="pl" style="left:790.2px"></div>
<div class="pl" style="left:866.0px"></div>
<div class="pl" style="left:943.1px"></div>
<div class="pl" style="left:1020.1px"></div>
<div class="pl" style="left:1096.4px"></div>
<div class="pl" style="left:1173.4px"></div>
<div class="pl" style="left:1250.1px"></div>
<div class="pl" style="left:1298.5px"></div>
<div class="pl" style="left:1337.4px"></div>
<div class="pl" style="left:1378.7px"></div>
<div class="pl" style="left:1419.2px"></div>
<div class="pl" style="left:1459.2px"></div>
<div class="pl" style="left:1475.0px"></div>
<div class="pl" style="left:1491.9px"></div>
<div class="pl" style="left:1508.4px"></div>
<div class="pl" style="left:1524.5px"></div>
<div class="pl" style="left:1535.1px"></div>
<div class="pl" style="left:1546.9px"></div>
<div class="pl" style="left:1559.5px"></div>
<div class="pl" style="left:1571.7px"></div>
<div class="pl" style="left:1588.2px"></div>
<div class="pl" style="left:1605.1px"></div>
<div class="pl" style="left:1622.0px"></div>
<div class="pl" style="left:1637.4px"></div>
<div class="pl" style="left:1649.2px"></div>
<div class="pl" style="left:1660.9px"></div>
<div class="st" style="left:411.4px">00:40</div>
<div class="st" style="left:1171.5px">00:45</div>
<div class="st" style="left:1523.3px">00:50</div>
<div class="st" style="left:1659.0px">00:55</div>
<div class="ch " style="left:249.4px">C</div>
<div class="ch " style="left:407.0px">Em</div>
<div class="ch " style="left:698.8px">D</div>
<div class="ch " style="left:1005.0px">Bm</div>
<div class="ch " style="left:1288.8px">C</div>
<div class="ch " style="left:1455.1px">Em</div>
<div class="ch " style="left:1521.2px">D</div>
<div class="ch " style="left:1567.1px">Bm</div>
<div class="ch " style="left:1634.8px">C</div>
<div class="ly " style="left:78.7px;transform:scaleX(1.023)">heartbeat</div>
<div class="ly " style="left:222.1px;transform:scaleX(1.060)">My</div>
<div class="ly " style="left:275.1px;transform:scaleX(1.030)">heartbeat</div>
<div class="ly " style="left:420.4px;transform:scaleX(1.060)">I</div>
<div class="ly " style="left:438.8px;transform:scaleX(1.009)">wanted</div>
<div class="ly " style="left:548.9px;transform:scaleX(1.004)">you</div>
<div class="ly " style="left:606.3px;transform:scaleX(1.060)">to</div>
<div class="ly " style="left:640.6px;transform:scaleX(1.037)">know</div>
<div class="ly " style="left:726.2px;transform:scaleX(1.003)">Whenever</div>
<div class="ly " style="left:880.1px;transform:scaleX(1.012)">you</div>
<div class="ly " style="left:937.0px;transform:scaleX(1.002)">are</div>
<div class="ly " style="left:988.8px;transform:scaleX(1.016)">around,</div>
<div class="ly " style="left:1102.9px;transform:scaleX(1.011)">can't</div>
<div class="ly " style="left:1177.3px;transform:scaleX(0.949)">speak</div>
<div class="ly " style="left:1264.6px;transform:scaleX(1.060)">I</div>
<div class="ly " style="left:1281.0px;transform:scaleX(1.022)">can't</div>
<div class="ly " style="left:1356.2px;transform:scaleX(0.941)">speak</div>
</div>
<div class="abs" style="left:1414.0px;top:0;width:2px;height:248px;background:#a81c26"></div>
</div>
<div id="bar" class="abs"><svg class="abs" style="left:0;top:0" width="2274" height="90" viewBox="0 1064 2274 90"><g fill="#b8c4dd" transform="translate(47.2 1095.4)"><path d="M0 0H11.1L7.15 3.95L13.4 10.2L10.2 13.4L3.95 7.15L0 11.1Z"/><path d="M0 0H11.1L7.15 3.95L13.4 10.2L10.2 13.4L3.95 7.15L0 11.1Z" transform="translate(29.2 0) scale(-1 1)"/><path d="M0 0H11.1L7.15 3.95L13.4 10.2L10.2 13.4L3.95 7.15L0 11.1Z" transform="translate(0 29.2) scale(1 -1)"/><path d="M0 0H11.1L7.15 3.95L13.4 10.2L10.2 13.4L3.95 7.15L0 11.1Z" transform="translate(29.2 29.2) scale(-1 -1)"/></g><rect x="136.9" y="1095.3" width="7.3" height="29.3" rx="2.4" fill="#b8c4dd"/><rect x="147.8" y="1095.3" width="7.3" height="29.3" rx="2.4" fill="#b8c4dd"/><g fill="#b8c4dd"><rect x="219" y="1112.5" width="8.8" height="2.1"/><rect x="222.9" y="1100.6" width="2.8" height="12.5"/><path d="M222.9 1100.6L218.8 1104.1V1106L222.9 1103.1Z"/><path d="M237.8 1099.9H240.9L222.3 1128.8H219.2Z"/><path d="M231.2 1117.9Q232.2 1115.5 235.3 1115.5Q239.2 1115.5 239.2 1118.9Q239.2 1121.2 236.6 1123.2L231.8 1127.1H240.3" fill="none" stroke="#b8c4dd" stroke-width="2.1"/></g><rect x="297.9" y="1106.1" width="7.5" height="8" rx="2" fill="#0a86e6"/><rect x="307" y="1106.1" width="8" height="8" rx="2" fill="#0a86e6"/><path d="M317 1100.2Q317 1099.2 318 1099.9L329.9 1109.2Q330.6 1109.9 329.9 1110.6L318 1119.9Q317 1120.6 317 1119.6Z" fill="#0a86e6"/><path d="M380.4 1103.8H385.9L395 1095.5V1124.4L385.9 1116.2H380.4Z" fill="#b8c4dd"/><g fill="none" stroke="#b8c4dd" stroke-width="3" stroke-linecap="round"><path d="M398.3 1104.6Q402.7 1110.1 398.3 1115.6"/><path d="M403.6 1101.6Q411.2 1110.1 403.6 1118.6"/><path d="M409.4 1098.6Q418.8 1110 409.4 1121.4"/></g><rect x="460" y="1105.6" width="1494" height="10" rx="4" fill="#3a3f49"/><rect x="460" y="1104.3" width="1494" height="9.8" rx="3.5" fill="#1e293b"/><rect x="460" y="1103.7" width="135" height="10" rx="5" fill="#0793ff"/><circle cx="590" cy="1110.2" r="16" fill="#b8c4dd"/><text x="1986.8" y="1118" font-family="Liberation Sans, sans-serif" font-size="20.7" fill="#dfe4ee">-04:02</text><rect x="2078" y="1084" width="170.2" height="50.2" rx="4.5" fill="#6dc551"/><text x="2163" y="1115.9" text-anchor="middle" font-family="Liberation Sans, sans-serif" font-weight="bold" font-size="18.7" letter-spacing="-0.75" fill="#fff">VERIFIED</text></svg></div>
</body></html>
